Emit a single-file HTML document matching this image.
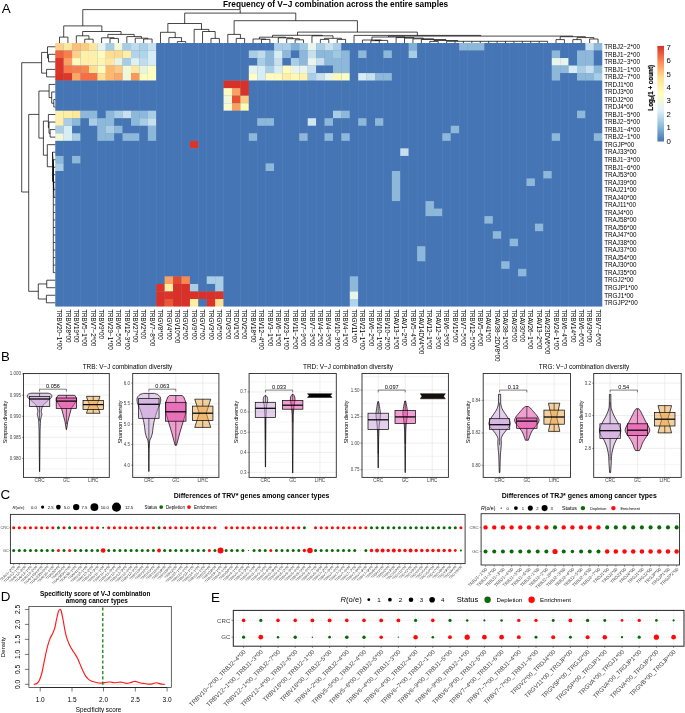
<!DOCTYPE html>
<html><head><meta charset="utf-8"><title>Figure</title>
<style>html,body{margin:0;padding:0;background:#fff;}body{width:685px;height:713px;overflow:hidden;font-family:"Liberation Sans", sans-serif;}svg{display:block;will-change:transform;}</style>
</head><body>
<svg width="685" height="713" viewBox="0 0 685 713" font-family='"Liberation Sans", sans-serif'>
<g id="heat">
<rect x="55.8" y="43.5" width="545.97" height="262.55" fill="#6F95C6"/>
<rect x="55.3" y="43" width="8.41" height="7.53" fill="#FDD08A"/>
<rect x="55.3" y="50.53" width="8.41" height="7.53" fill="#F0643C"/>
<rect x="55.3" y="58.06" width="8.41" height="15.06" fill="#DC3428"/>
<rect x="55.3" y="73.12" width="8.41" height="7.53" fill="#D93027"/>
<rect x="55.3" y="80.65" width="8.41" height="30.12" fill="#4575B4"/>
<rect x="55.3" y="110.77" width="8.41" height="15.06" fill="#FEF0A8"/>
<rect x="55.3" y="125.83" width="8.41" height="7.53" fill="#A8CDE4"/>
<rect x="55.3" y="133.36" width="8.41" height="7.53" fill="#F0F8D8"/>
<rect x="55.3" y="140.89" width="8.41" height="15.06" fill="#4575B4"/>
<rect x="55.3" y="155.95" width="8.41" height="7.53" fill="#8DB8DA"/>
<rect x="55.3" y="163.48" width="8.41" height="7.53" fill="#A8CDE4"/>
<rect x="55.3" y="171.01" width="8.41" height="135.54" fill="#4575B4"/>
<rect x="63.71" y="43" width="8.41" height="7.53" fill="#FEE9A0"/>
<rect x="63.71" y="50.53" width="8.41" height="7.53" fill="#F88048"/>
<rect x="63.71" y="58.06" width="8.41" height="7.53" fill="#FBA060"/>
<rect x="63.71" y="65.59" width="8.41" height="7.53" fill="#F87848"/>
<rect x="63.71" y="73.12" width="8.41" height="7.53" fill="#DC3828"/>
<rect x="63.71" y="80.65" width="8.41" height="30.12" fill="#4575B4"/>
<rect x="63.71" y="110.77" width="8.41" height="7.53" fill="#FEEEA0"/>
<rect x="63.71" y="118.3" width="8.41" height="7.53" fill="#A8CDE4"/>
<rect x="63.71" y="125.83" width="8.41" height="15.06" fill="#D8ECF4"/>
<rect x="63.71" y="140.89" width="8.41" height="165.66" fill="#4575B4"/>
<rect x="72.13" y="43" width="8.41" height="7.53" fill="#FDC07A"/>
<rect x="72.13" y="50.53" width="8.41" height="7.53" fill="#FDCF88"/>
<rect x="72.13" y="58.06" width="8.41" height="7.53" fill="#FFFBBC"/>
<rect x="72.13" y="65.59" width="8.41" height="7.53" fill="#F88050"/>
<rect x="72.13" y="73.12" width="8.41" height="7.53" fill="#FBA864"/>
<rect x="72.13" y="80.65" width="8.41" height="30.12" fill="#4575B4"/>
<rect x="72.13" y="110.77" width="8.41" height="7.53" fill="#FEE898"/>
<rect x="72.13" y="118.3" width="8.41" height="7.53" fill="#8DB8DA"/>
<rect x="72.13" y="125.83" width="8.41" height="7.53" fill="#4575B4"/>
<rect x="72.13" y="133.36" width="8.41" height="7.53" fill="#A8CDE4"/>
<rect x="72.13" y="140.89" width="8.41" height="15.06" fill="#4575B4"/>
<rect x="72.13" y="155.95" width="8.41" height="7.53" fill="#8DB8DA"/>
<rect x="72.13" y="163.48" width="8.41" height="143.07" fill="#4575B4"/>
<rect x="80.54" y="43" width="8.41" height="7.53" fill="#FDCB80"/>
<rect x="80.54" y="50.53" width="8.41" height="15.06" fill="#FEF0A8"/>
<rect x="80.54" y="65.59" width="8.41" height="7.53" fill="#F98850"/>
<rect x="80.54" y="73.12" width="8.41" height="7.53" fill="#F47044"/>
<rect x="80.54" y="80.65" width="8.41" height="30.12" fill="#4575B4"/>
<rect x="80.54" y="110.77" width="8.41" height="7.53" fill="#8DB8DA"/>
<rect x="80.54" y="118.3" width="8.41" height="188.25" fill="#4575B4"/>
<rect x="88.96" y="43" width="8.41" height="7.53" fill="#FEE6A0"/>
<rect x="88.96" y="50.53" width="8.41" height="15.06" fill="#FEF0A8"/>
<rect x="88.96" y="65.59" width="8.41" height="7.53" fill="#FEE090"/>
<rect x="88.96" y="73.12" width="8.41" height="7.53" fill="#F47044"/>
<rect x="88.96" y="80.65" width="8.41" height="30.12" fill="#4575B4"/>
<rect x="88.96" y="110.77" width="8.41" height="7.53" fill="#8DB8DA"/>
<rect x="88.96" y="118.3" width="8.41" height="7.53" fill="#A8CDE4"/>
<rect x="88.96" y="125.83" width="8.41" height="180.72" fill="#4575B4"/>
<rect x="97.38" y="43" width="8.41" height="7.53" fill="#E4F2F0"/>
<rect x="97.38" y="50.53" width="8.41" height="7.53" fill="#FFFBBC"/>
<rect x="97.38" y="58.06" width="8.41" height="7.53" fill="#FEF5B0"/>
<rect x="97.38" y="65.59" width="8.41" height="7.53" fill="#FFFBBC"/>
<rect x="97.38" y="73.12" width="8.41" height="7.53" fill="#FEE090"/>
<rect x="97.38" y="80.65" width="8.41" height="37.65" fill="#4575B4"/>
<rect x="97.38" y="118.3" width="8.41" height="22.59" fill="#8DB8DA"/>
<rect x="97.38" y="140.89" width="8.41" height="165.66" fill="#4575B4"/>
<rect x="105.79" y="43" width="8.41" height="7.53" fill="#A6CDE4"/>
<rect x="105.79" y="50.53" width="8.41" height="7.53" fill="#FEDD90"/>
<rect x="105.79" y="58.06" width="8.41" height="7.53" fill="#FEE8A0"/>
<rect x="105.79" y="65.59" width="8.41" height="15.06" fill="#FDB870"/>
<rect x="105.79" y="80.65" width="8.41" height="30.12" fill="#4575B4"/>
<rect x="105.79" y="110.77" width="8.41" height="15.06" fill="#8DB8DA"/>
<rect x="105.79" y="125.83" width="8.41" height="7.53" fill="#A8CDE4"/>
<rect x="105.79" y="133.36" width="8.41" height="7.53" fill="#8DB8DA"/>
<rect x="105.79" y="140.89" width="8.41" height="165.66" fill="#4575B4"/>
<rect x="114.2" y="43" width="8.41" height="7.53" fill="#F0F8D8"/>
<rect x="114.2" y="50.53" width="8.41" height="7.53" fill="#FEDA8C"/>
<rect x="114.2" y="58.06" width="8.41" height="7.53" fill="#E8F4E0"/>
<rect x="114.2" y="65.59" width="8.41" height="7.53" fill="#FDC880"/>
<rect x="114.2" y="73.12" width="8.41" height="7.53" fill="#FBA868"/>
<rect x="114.2" y="80.65" width="8.41" height="30.12" fill="#4575B4"/>
<rect x="114.2" y="110.77" width="8.41" height="7.53" fill="#A8CDE4"/>
<rect x="114.2" y="118.3" width="8.41" height="7.53" fill="#4575B4"/>
<rect x="114.2" y="125.83" width="8.41" height="7.53" fill="#8DB8DA"/>
<rect x="114.2" y="133.36" width="8.41" height="173.19" fill="#4575B4"/>
<rect x="122.62" y="43" width="8.41" height="7.53" fill="#A6CDE4"/>
<rect x="122.62" y="50.53" width="8.41" height="7.53" fill="#FEEEA8"/>
<rect x="122.62" y="58.06" width="8.41" height="7.53" fill="#A6CDE4"/>
<rect x="122.62" y="65.59" width="8.41" height="15.06" fill="#F0F8D8"/>
<rect x="122.62" y="80.65" width="8.41" height="30.12" fill="#4575B4"/>
<rect x="122.62" y="110.77" width="8.41" height="7.53" fill="#C8E0EE"/>
<rect x="122.62" y="118.3" width="8.41" height="15.06" fill="#4575B4"/>
<rect x="122.62" y="133.36" width="8.41" height="7.53" fill="#8DB8DA"/>
<rect x="122.62" y="140.89" width="8.41" height="165.66" fill="#4575B4"/>
<rect x="131.03" y="43" width="8.41" height="7.53" fill="#C0DCEC"/>
<rect x="131.03" y="50.53" width="8.41" height="7.53" fill="#B0D4E8"/>
<rect x="131.03" y="58.06" width="8.41" height="7.53" fill="#E0F0F0"/>
<rect x="131.03" y="65.59" width="8.41" height="7.53" fill="#FEE8A0"/>
<rect x="131.03" y="73.12" width="8.41" height="7.53" fill="#FB9858"/>
<rect x="131.03" y="80.65" width="8.41" height="30.12" fill="#4575B4"/>
<rect x="131.03" y="110.77" width="8.41" height="15.06" fill="#8DB8DA"/>
<rect x="131.03" y="125.83" width="8.41" height="7.53" fill="#4575B4"/>
<rect x="131.03" y="133.36" width="8.41" height="7.53" fill="#8DB8DA"/>
<rect x="131.03" y="140.89" width="8.41" height="165.66" fill="#4575B4"/>
<rect x="139.45" y="43" width="8.41" height="7.53" fill="#ABD0E6"/>
<rect x="139.45" y="50.53" width="8.41" height="7.53" fill="#B0D4E8"/>
<rect x="139.45" y="58.06" width="8.41" height="7.53" fill="#C0DCEC"/>
<rect x="139.45" y="65.59" width="8.41" height="7.53" fill="#E8F4E0"/>
<rect x="139.45" y="73.12" width="8.41" height="7.53" fill="#FFFBBC"/>
<rect x="139.45" y="80.65" width="8.41" height="30.12" fill="#4575B4"/>
<rect x="139.45" y="110.77" width="8.41" height="7.53" fill="#8DB8DA"/>
<rect x="139.45" y="118.3" width="8.41" height="7.53" fill="#A8CDE4"/>
<rect x="139.45" y="125.83" width="8.41" height="180.72" fill="#4575B4"/>
<rect x="147.87" y="43" width="8.41" height="7.53" fill="#C8E0EE"/>
<rect x="147.87" y="50.53" width="8.41" height="15.06" fill="#D8ECF4"/>
<rect x="147.87" y="65.59" width="8.41" height="15.06" fill="#FFFDC0"/>
<rect x="147.87" y="80.65" width="8.41" height="30.12" fill="#4575B4"/>
<rect x="147.87" y="110.77" width="8.41" height="7.53" fill="#A8CDE4"/>
<rect x="147.87" y="118.3" width="8.41" height="7.53" fill="#C8E0EE"/>
<rect x="147.87" y="125.83" width="8.41" height="15.06" fill="#8DB8DA"/>
<rect x="147.87" y="140.89" width="8.41" height="165.66" fill="#4575B4"/>
<rect x="156.28" y="43" width="8.41" height="240.96" fill="#4575B4"/>
<rect x="156.28" y="283.96" width="8.41" height="7.53" fill="#DC3428"/>
<rect x="156.28" y="291.49" width="8.41" height="15.06" fill="#D93027"/>
<rect x="164.69" y="43" width="8.41" height="233.43" fill="#4575B4"/>
<rect x="164.69" y="276.43" width="8.41" height="7.53" fill="#FBA060"/>
<rect x="164.69" y="283.96" width="8.41" height="7.53" fill="#FEEEA0"/>
<rect x="164.69" y="291.49" width="8.41" height="7.53" fill="#DC3428"/>
<rect x="164.69" y="299.02" width="8.41" height="7.53" fill="#E85838"/>
<rect x="173.11" y="43" width="8.41" height="233.43" fill="#4575B4"/>
<rect x="173.11" y="276.43" width="8.41" height="7.53" fill="#E04830"/>
<rect x="173.11" y="283.96" width="8.41" height="22.59" fill="#D93027"/>
<rect x="181.52" y="43" width="8.41" height="233.43" fill="#4575B4"/>
<rect x="181.52" y="276.43" width="8.41" height="7.53" fill="#F88850"/>
<rect x="181.52" y="283.96" width="8.41" height="22.59" fill="#D93027"/>
<rect x="189.94" y="43" width="8.41" height="97.89" fill="#4575B4"/>
<rect x="189.94" y="140.89" width="8.41" height="7.53" fill="#DC3428"/>
<rect x="189.94" y="148.42" width="8.41" height="135.54" fill="#4575B4"/>
<rect x="189.94" y="283.96" width="8.41" height="7.53" fill="#A8CDE4"/>
<rect x="189.94" y="291.49" width="8.41" height="7.53" fill="#D93027"/>
<rect x="189.94" y="299.02" width="8.41" height="7.53" fill="#FEEEA0"/>
<rect x="198.35" y="43" width="8.41" height="248.49" fill="#4575B4"/>
<rect x="198.35" y="291.49" width="8.41" height="7.53" fill="#D93027"/>
<rect x="198.35" y="299.02" width="8.41" height="7.53" fill="#4575B4"/>
<rect x="206.77" y="43" width="8.41" height="233.43" fill="#4575B4"/>
<rect x="206.77" y="276.43" width="8.41" height="7.53" fill="#A8CDE4"/>
<rect x="206.77" y="283.96" width="8.41" height="7.53" fill="#4575B4"/>
<rect x="206.77" y="291.49" width="8.41" height="7.53" fill="#D93027"/>
<rect x="206.77" y="299.02" width="8.41" height="7.53" fill="#DC3428"/>
<rect x="215.19" y="43" width="8.41" height="233.43" fill="#4575B4"/>
<rect x="215.19" y="276.43" width="8.41" height="15.06" fill="#A8CDE4"/>
<rect x="215.19" y="291.49" width="8.41" height="7.53" fill="#DC3428"/>
<rect x="215.19" y="299.02" width="8.41" height="7.53" fill="#FEE090"/>
<rect x="223.6" y="43" width="8.41" height="37.65" fill="#4575B4"/>
<rect x="223.6" y="80.65" width="8.41" height="7.53" fill="#D93027"/>
<rect x="223.6" y="88.18" width="8.41" height="7.53" fill="#FFFBC0"/>
<rect x="223.6" y="95.71" width="8.41" height="7.53" fill="#F0F8D8"/>
<rect x="223.6" y="103.24" width="8.41" height="7.53" fill="#F8FCD0"/>
<rect x="223.6" y="110.77" width="8.41" height="195.78" fill="#4575B4"/>
<rect x="232.01" y="43" width="8.41" height="37.65" fill="#4575B4"/>
<rect x="232.01" y="80.65" width="8.41" height="7.53" fill="#D93027"/>
<rect x="232.01" y="88.18" width="8.41" height="7.53" fill="#FBA060"/>
<rect x="232.01" y="95.71" width="8.41" height="7.53" fill="#E85030"/>
<rect x="232.01" y="103.24" width="8.41" height="7.53" fill="#FBA060"/>
<rect x="232.01" y="110.77" width="8.41" height="195.78" fill="#4575B4"/>
<rect x="240.43" y="43" width="8.41" height="37.65" fill="#4575B4"/>
<rect x="240.43" y="80.65" width="8.41" height="15.06" fill="#D93027"/>
<rect x="240.43" y="95.71" width="8.41" height="7.53" fill="#FDCB80"/>
<rect x="240.43" y="103.24" width="8.41" height="7.53" fill="#FFFBB0"/>
<rect x="240.43" y="110.77" width="8.41" height="195.78" fill="#4575B4"/>
<rect x="248.84" y="43" width="8.41" height="7.53" fill="#4575B4"/>
<rect x="248.84" y="50.53" width="8.41" height="7.53" fill="#A8CDE4"/>
<rect x="248.84" y="58.06" width="8.41" height="7.53" fill="#4575B4"/>
<rect x="248.84" y="65.59" width="8.41" height="7.53" fill="#E4F2F0"/>
<rect x="248.84" y="73.12" width="8.41" height="7.53" fill="#FFFDC8"/>
<rect x="248.84" y="80.65" width="8.41" height="52.71" fill="#4575B4"/>
<rect x="248.84" y="133.36" width="8.41" height="7.53" fill="#8DB8DA"/>
<rect x="248.84" y="140.89" width="8.41" height="165.66" fill="#4575B4"/>
<rect x="257.26" y="43" width="8.41" height="7.53" fill="#4575B4"/>
<rect x="257.26" y="50.53" width="8.41" height="7.53" fill="#C0DCEC"/>
<rect x="257.26" y="58.06" width="8.41" height="7.53" fill="#A8CDE4"/>
<rect x="257.26" y="65.59" width="8.41" height="15.06" fill="#D8ECF4"/>
<rect x="257.26" y="80.65" width="8.41" height="37.65" fill="#4575B4"/>
<rect x="257.26" y="118.3" width="8.41" height="7.53" fill="#8DB8DA"/>
<rect x="257.26" y="125.83" width="8.41" height="180.72" fill="#4575B4"/>
<rect x="265.67" y="43" width="8.41" height="7.53" fill="#4575B4"/>
<rect x="265.67" y="50.53" width="8.41" height="15.06" fill="#8DB8DA"/>
<rect x="265.67" y="65.59" width="8.41" height="7.53" fill="#A8CDE4"/>
<rect x="265.67" y="73.12" width="8.41" height="7.53" fill="#FFFBC0"/>
<rect x="265.67" y="80.65" width="8.41" height="37.65" fill="#4575B4"/>
<rect x="265.67" y="118.3" width="8.41" height="7.53" fill="#8DB8DA"/>
<rect x="265.67" y="125.83" width="8.41" height="37.65" fill="#4575B4"/>
<rect x="265.67" y="163.48" width="8.41" height="7.53" fill="#8DB8DA"/>
<rect x="265.67" y="171.01" width="8.41" height="135.54" fill="#4575B4"/>
<rect x="274.09" y="43" width="8.41" height="7.53" fill="#A8CDE4"/>
<rect x="274.09" y="50.53" width="8.41" height="7.53" fill="#D8ECF4"/>
<rect x="274.09" y="58.06" width="8.41" height="7.53" fill="#C8E0EE"/>
<rect x="274.09" y="65.59" width="8.41" height="7.53" fill="#D8ECF4"/>
<rect x="274.09" y="73.12" width="8.41" height="7.53" fill="#FFFBC0"/>
<rect x="274.09" y="80.65" width="8.41" height="225.9" fill="#4575B4"/>
<rect x="282.5" y="43" width="8.41" height="7.53" fill="#A8CDE4"/>
<rect x="282.5" y="50.53" width="8.41" height="7.53" fill="#8DB8DA"/>
<rect x="282.5" y="58.06" width="8.41" height="7.53" fill="#4575B4"/>
<rect x="282.5" y="65.59" width="8.41" height="7.53" fill="#FFFBBC"/>
<rect x="282.5" y="73.12" width="8.41" height="7.53" fill="#FEEEA8"/>
<rect x="282.5" y="80.65" width="8.41" height="225.9" fill="#4575B4"/>
<rect x="290.92" y="43" width="8.41" height="7.53" fill="#80B0D6"/>
<rect x="290.92" y="50.53" width="8.41" height="7.53" fill="#4575B4"/>
<rect x="290.92" y="58.06" width="8.41" height="7.53" fill="#A8CDE4"/>
<rect x="290.92" y="65.59" width="8.41" height="7.53" fill="#E8F4EC"/>
<rect x="290.92" y="73.12" width="8.41" height="7.53" fill="#FFF8B4"/>
<rect x="290.92" y="80.65" width="8.41" height="225.9" fill="#4575B4"/>
<rect x="299.33" y="43" width="8.41" height="7.53" fill="#A0C8E0"/>
<rect x="299.33" y="50.53" width="8.41" height="15.06" fill="#8DB8DA"/>
<rect x="299.33" y="65.59" width="8.41" height="7.53" fill="#E8F4EC"/>
<rect x="299.33" y="73.12" width="8.41" height="7.53" fill="#FEF2AC"/>
<rect x="299.33" y="80.65" width="8.41" height="52.71" fill="#4575B4"/>
<rect x="299.33" y="133.36" width="8.41" height="7.53" fill="#8DB8DA"/>
<rect x="299.33" y="140.89" width="8.41" height="165.66" fill="#4575B4"/>
<rect x="307.75" y="43" width="8.41" height="7.53" fill="#E8F4EC"/>
<rect x="307.75" y="50.53" width="8.41" height="7.53" fill="#C8E0EE"/>
<rect x="307.75" y="58.06" width="8.41" height="7.53" fill="#E8F4EC"/>
<rect x="307.75" y="65.59" width="8.41" height="7.53" fill="#C8E0EE"/>
<rect x="307.75" y="73.12" width="8.41" height="7.53" fill="#A8CDE4"/>
<rect x="307.75" y="80.65" width="8.41" height="37.65" fill="#4575B4"/>
<rect x="307.75" y="118.3" width="8.41" height="7.53" fill="#D0E6F0"/>
<rect x="307.75" y="125.83" width="8.41" height="180.72" fill="#4575B4"/>
<rect x="316.16" y="43" width="8.41" height="7.53" fill="#A8CDE4"/>
<rect x="316.16" y="50.53" width="8.41" height="7.53" fill="#8DB8DA"/>
<rect x="316.16" y="58.06" width="8.41" height="7.53" fill="#C8E0EE"/>
<rect x="316.16" y="65.59" width="8.41" height="7.53" fill="#4575B4"/>
<rect x="316.16" y="73.12" width="8.41" height="7.53" fill="#C8E0EE"/>
<rect x="316.16" y="80.65" width="8.41" height="225.9" fill="#4575B4"/>
<rect x="324.58" y="43" width="8.41" height="7.53" fill="#C8E0EE"/>
<rect x="324.58" y="50.53" width="8.41" height="15.06" fill="#8DB8DA"/>
<rect x="324.58" y="65.59" width="8.41" height="7.53" fill="#4575B4"/>
<rect x="324.58" y="73.12" width="8.41" height="7.53" fill="#E8F4EC"/>
<rect x="324.58" y="80.65" width="8.41" height="37.65" fill="#4575B4"/>
<rect x="324.58" y="118.3" width="8.41" height="7.53" fill="#8DB8DA"/>
<rect x="324.58" y="125.83" width="8.41" height="7.53" fill="#4575B4"/>
<rect x="324.58" y="133.36" width="8.41" height="7.53" fill="#8DB8DA"/>
<rect x="324.58" y="140.89" width="8.41" height="165.66" fill="#4575B4"/>
<rect x="333" y="43" width="8.41" height="7.53" fill="#A8CDE4"/>
<rect x="333" y="50.53" width="8.41" height="7.53" fill="#A0C8E0"/>
<rect x="333" y="58.06" width="8.41" height="15.06" fill="#8DB8DA"/>
<rect x="333" y="73.12" width="8.41" height="7.53" fill="#FFF8B4"/>
<rect x="333" y="80.65" width="8.41" height="30.12" fill="#4575B4"/>
<rect x="333" y="110.77" width="8.41" height="7.53" fill="#A8CDE4"/>
<rect x="333" y="118.3" width="8.41" height="188.25" fill="#4575B4"/>
<rect x="341.41" y="43" width="8.41" height="7.53" fill="#4575B4"/>
<rect x="341.41" y="50.53" width="8.41" height="22.59" fill="#8DB8DA"/>
<rect x="341.41" y="73.12" width="8.41" height="7.53" fill="#F8FCC4"/>
<rect x="341.41" y="80.65" width="8.41" height="30.12" fill="#4575B4"/>
<rect x="341.41" y="110.77" width="8.41" height="7.53" fill="#8DB8DA"/>
<rect x="341.41" y="118.3" width="8.41" height="15.06" fill="#4575B4"/>
<rect x="341.41" y="133.36" width="8.41" height="7.53" fill="#8DB8DA"/>
<rect x="341.41" y="140.89" width="8.41" height="165.66" fill="#4575B4"/>
<rect x="349.82" y="43" width="8.41" height="233.43" fill="#4575B4"/>
<rect x="349.82" y="276.43" width="8.41" height="15.06" fill="#8DB8DA"/>
<rect x="349.82" y="291.49" width="8.41" height="7.53" fill="#E8F4EC"/>
<rect x="349.82" y="299.02" width="8.41" height="7.53" fill="#B0D4E8"/>
<rect x="358.24" y="43" width="8.41" height="7.53" fill="#4575B4"/>
<rect x="358.24" y="50.53" width="8.41" height="7.53" fill="#8DB8DA"/>
<rect x="358.24" y="58.06" width="8.41" height="15.06" fill="#4575B4"/>
<rect x="358.24" y="73.12" width="8.41" height="7.53" fill="#D8ECF4"/>
<rect x="358.24" y="80.65" width="8.41" height="37.65" fill="#4575B4"/>
<rect x="358.24" y="118.3" width="8.41" height="7.53" fill="#8DB8DA"/>
<rect x="358.24" y="125.83" width="8.41" height="180.72" fill="#4575B4"/>
<rect x="366.65" y="43" width="8.41" height="30.12" fill="#4575B4"/>
<rect x="366.65" y="73.12" width="8.41" height="7.53" fill="#C8E0EE"/>
<rect x="366.65" y="80.65" width="8.41" height="225.9" fill="#4575B4"/>
<rect x="375.07" y="43" width="8.41" height="30.12" fill="#4575B4"/>
<rect x="375.07" y="73.12" width="8.41" height="7.53" fill="#8DB8DA"/>
<rect x="375.07" y="80.65" width="8.41" height="37.65" fill="#4575B4"/>
<rect x="375.07" y="118.3" width="8.41" height="7.53" fill="#8DB8DA"/>
<rect x="375.07" y="125.83" width="8.41" height="180.72" fill="#4575B4"/>
<rect x="383.48" y="43" width="8.41" height="7.53" fill="#4575B4"/>
<rect x="383.48" y="50.53" width="8.41" height="7.53" fill="#8DB8DA"/>
<rect x="383.48" y="58.06" width="8.41" height="15.06" fill="#4575B4"/>
<rect x="383.48" y="73.12" width="8.41" height="7.53" fill="#8DB8DA"/>
<rect x="383.48" y="80.65" width="8.41" height="225.9" fill="#4575B4"/>
<rect x="391.9" y="43" width="8.41" height="128.01" fill="#4575B4"/>
<rect x="391.9" y="171.01" width="8.41" height="30.12" fill="#8DB8DA"/>
<rect x="391.9" y="201.13" width="8.41" height="105.42" fill="#4575B4"/>
<rect x="400.31" y="43" width="8.41" height="105.42" fill="#4575B4"/>
<rect x="400.31" y="148.42" width="8.41" height="7.53" fill="#C8E0EE"/>
<rect x="400.31" y="155.95" width="8.41" height="150.6" fill="#4575B4"/>
<rect x="408.73" y="43" width="8.41" height="7.53" fill="#80B0D6"/>
<rect x="408.73" y="50.53" width="8.41" height="7.53" fill="#A8CDE4"/>
<rect x="408.73" y="58.06" width="8.41" height="248.49" fill="#4575B4"/>
<rect x="417.14" y="43" width="8.41" height="203.31" fill="#4575B4"/>
<rect x="417.14" y="246.31" width="8.41" height="15.06" fill="#8DB8DA"/>
<rect x="417.14" y="261.37" width="8.41" height="45.18" fill="#4575B4"/>
<rect x="425.56" y="43" width="8.41" height="158.13" fill="#4575B4"/>
<rect x="425.56" y="201.13" width="8.41" height="15.06" fill="#8DB8DA"/>
<rect x="425.56" y="216.19" width="8.41" height="90.36" fill="#4575B4"/>
<rect x="433.97" y="43" width="8.41" height="165.66" fill="#4575B4"/>
<rect x="433.97" y="208.66" width="8.41" height="7.53" fill="#8DB8DA"/>
<rect x="433.97" y="216.19" width="8.41" height="90.36" fill="#4575B4"/>
<rect x="442.39" y="43" width="8.41" height="90.36" fill="#4575B4"/>
<rect x="442.39" y="133.36" width="8.41" height="7.53" fill="#8DB8DA"/>
<rect x="442.39" y="140.89" width="8.41" height="165.66" fill="#4575B4"/>
<rect x="450.8" y="43" width="8.41" height="82.83" fill="#4575B4"/>
<rect x="450.8" y="125.83" width="8.41" height="7.53" fill="#8DB8DA"/>
<rect x="450.8" y="133.36" width="8.41" height="173.19" fill="#4575B4"/>
<rect x="459.22" y="43" width="8.41" height="7.53" fill="#8DB8DA"/>
<rect x="459.22" y="50.53" width="8.41" height="256.02" fill="#4575B4"/>
<rect x="467.63" y="43" width="8.41" height="7.53" fill="#8DB8DA"/>
<rect x="467.63" y="50.53" width="8.41" height="256.02" fill="#4575B4"/>
<rect x="476.05" y="43" width="8.41" height="7.53" fill="#8DB8DA"/>
<rect x="476.05" y="50.53" width="8.41" height="256.02" fill="#4575B4"/>
<rect x="484.46" y="43" width="8.41" height="173.19" fill="#4575B4"/>
<rect x="484.46" y="216.19" width="8.41" height="7.53" fill="#8DB8DA"/>
<rect x="484.46" y="223.72" width="8.41" height="82.83" fill="#4575B4"/>
<rect x="492.88" y="43" width="8.41" height="188.25" fill="#4575B4"/>
<rect x="492.88" y="231.25" width="8.41" height="7.53" fill="#8DB8DA"/>
<rect x="492.88" y="238.78" width="8.41" height="67.77" fill="#4575B4"/>
<rect x="501.29" y="43" width="8.41" height="218.37" fill="#4575B4"/>
<rect x="501.29" y="261.37" width="8.41" height="7.53" fill="#8DB8DA"/>
<rect x="501.29" y="268.9" width="8.41" height="37.65" fill="#4575B4"/>
<rect x="509.71" y="43" width="8.41" height="195.78" fill="#4575B4"/>
<rect x="509.71" y="238.78" width="8.41" height="7.53" fill="#8DB8DA"/>
<rect x="509.71" y="246.31" width="8.41" height="60.24" fill="#4575B4"/>
<rect x="518.12" y="43" width="8.41" height="225.9" fill="#4575B4"/>
<rect x="518.12" y="268.9" width="8.41" height="7.53" fill="#8DB8DA"/>
<rect x="518.12" y="276.43" width="8.41" height="30.12" fill="#4575B4"/>
<rect x="526.54" y="43" width="8.41" height="135.54" fill="#4575B4"/>
<rect x="526.54" y="178.54" width="8.41" height="7.53" fill="#8DB8DA"/>
<rect x="526.54" y="186.07" width="8.41" height="120.48" fill="#4575B4"/>
<rect x="534.95" y="43" width="8.41" height="180.72" fill="#4575B4"/>
<rect x="534.95" y="223.72" width="8.41" height="7.53" fill="#8DB8DA"/>
<rect x="534.95" y="231.25" width="8.41" height="75.3" fill="#4575B4"/>
<rect x="543.37" y="43" width="8.41" height="128.01" fill="#4575B4"/>
<rect x="543.37" y="171.01" width="8.41" height="7.53" fill="#8DB8DA"/>
<rect x="543.37" y="178.54" width="8.41" height="128.01" fill="#4575B4"/>
<rect x="551.78" y="43" width="8.41" height="7.53" fill="#4575B4"/>
<rect x="551.78" y="50.53" width="8.41" height="7.53" fill="#8DB8DA"/>
<rect x="551.78" y="58.06" width="8.41" height="7.53" fill="#E8F4EC"/>
<rect x="551.78" y="65.59" width="8.41" height="15.06" fill="#8DB8DA"/>
<rect x="551.78" y="80.65" width="8.41" height="52.71" fill="#4575B4"/>
<rect x="551.78" y="133.36" width="8.41" height="7.53" fill="#8DB8DA"/>
<rect x="551.78" y="140.89" width="8.41" height="165.66" fill="#4575B4"/>
<rect x="560.2" y="43" width="8.41" height="15.06" fill="#4575B4"/>
<rect x="560.2" y="58.06" width="8.41" height="7.53" fill="#E8F4EC"/>
<rect x="560.2" y="65.59" width="8.41" height="7.53" fill="#8DB8DA"/>
<rect x="560.2" y="73.12" width="8.41" height="233.43" fill="#4575B4"/>
<rect x="568.61" y="43" width="8.41" height="22.59" fill="#4575B4"/>
<rect x="568.61" y="65.59" width="8.41" height="7.53" fill="#D8ECF4"/>
<rect x="568.61" y="73.12" width="8.41" height="233.43" fill="#4575B4"/>
<rect x="577.03" y="43" width="8.41" height="7.53" fill="#4575B4"/>
<rect x="577.03" y="50.53" width="8.41" height="15.06" fill="#8DB8DA"/>
<rect x="577.03" y="65.59" width="8.41" height="7.53" fill="#A8CDE4"/>
<rect x="577.03" y="73.12" width="8.41" height="7.53" fill="#8DB8DA"/>
<rect x="577.03" y="80.65" width="8.41" height="30.12" fill="#4575B4"/>
<rect x="577.03" y="110.77" width="8.41" height="7.53" fill="#8DB8DA"/>
<rect x="577.03" y="118.3" width="8.41" height="188.25" fill="#4575B4"/>
<rect x="585.44" y="43" width="8.41" height="7.53" fill="#C8E0EE"/>
<rect x="585.44" y="50.53" width="8.41" height="15.06" fill="#8DB8DA"/>
<rect x="585.44" y="65.59" width="8.41" height="7.53" fill="#C8E0EE"/>
<rect x="585.44" y="73.12" width="8.41" height="7.53" fill="#8DB8DA"/>
<rect x="585.44" y="80.65" width="8.41" height="225.9" fill="#4575B4"/>
<rect x="593.86" y="43" width="8.41" height="7.53" fill="#8DB8DA"/>
<rect x="593.86" y="50.53" width="8.41" height="15.06" fill="#4575B4"/>
<rect x="593.86" y="65.59" width="8.41" height="7.53" fill="#8DB8DA"/>
<rect x="593.86" y="73.12" width="8.41" height="7.53" fill="#A8CDE4"/>
<rect x="593.86" y="80.65" width="8.41" height="52.71" fill="#4575B4"/>
<rect x="593.86" y="133.36" width="8.41" height="7.53" fill="#8DB8DA"/>
<rect x="593.86" y="140.89" width="8.41" height="165.66" fill="#4575B4"/>
</g>
<g font-size="6.3">
<text x="604.2" y="49.02">TRBJ2−2*00</text>
<text x="604.2" y="56.55">TRBJ1−2*00</text>
<text x="604.2" y="64.08">TRBJ2−3*00</text>
<text x="604.2" y="71.61">TRBJ1−1*00</text>
<text x="604.2" y="79.13">TRBJ2−7*00</text>
<text x="604.2" y="86.66">TRDJ1*00</text>
<text x="604.2" y="94.19">TRDJ3*00</text>
<text x="604.2" y="101.72">TRDJ2*00</text>
<text x="604.2" y="109.25">TRDJ4*00</text>
<text x="604.2" y="116.78">TRBJ1−5*00</text>
<text x="604.2" y="124.31">TRBJ2−5*00</text>
<text x="604.2" y="131.84">TRBJ1−4*00</text>
<text x="604.2" y="139.38">TRBJ2−1*00</text>
<text x="604.2" y="146.91">TRGJP*00</text>
<text x="604.2" y="154.44">TRAJ33*00</text>
<text x="604.2" y="161.97">TRBJ1−3*00</text>
<text x="604.2" y="169.5">TRBJ1−6*00</text>
<text x="604.2" y="177.03">TRAJ53*00</text>
<text x="604.2" y="184.56">TRAJ39*00</text>
<text x="604.2" y="192.09">TRAJ21*00</text>
<text x="604.2" y="199.62">TRAJ40*00</text>
<text x="604.2" y="207.15">TRAJ11*00</text>
<text x="604.2" y="214.68">TRAJ4*00</text>
<text x="604.2" y="222.21">TRAJ58*00</text>
<text x="604.2" y="229.74">TRAJ56*00</text>
<text x="604.2" y="237.27">TRAJ47*00</text>
<text x="604.2" y="244.8">TRAJ38*00</text>
<text x="604.2" y="252.33">TRAJ37*00</text>
<text x="604.2" y="259.86">TRAJ54*00</text>
<text x="604.2" y="267.38">TRAJ30*00</text>
<text x="604.2" y="274.92">TRAJ35*00</text>
<text x="604.2" y="282.45">TRGJ2*00</text>
<text x="604.2" y="289.98">TRGJP1*00</text>
<text x="604.2" y="297.5">TRGJ1*00</text>
<text x="604.2" y="305.04">TRGJP2*00</text>
<text transform="translate(57.21 309.2) rotate(90)">TRBV20−1*00</text>
<text transform="translate(65.62 309.2) rotate(90)">TRBV28*00</text>
<text transform="translate(74.04 309.2) rotate(90)">TRBV19*00</text>
<text transform="translate(82.45 309.2) rotate(90)">TRBV5−1*00</text>
<text transform="translate(90.87 309.2) rotate(90)">TRBV7−2*00</text>
<text transform="translate(99.28 309.2) rotate(90)">TRBV9*00</text>
<text transform="translate(107.7 309.2) rotate(90)">TRBV29−1*00</text>
<text transform="translate(116.11 309.2) rotate(90)">TRBV6−5*00</text>
<text transform="translate(124.53 309.2) rotate(90)">TRBV12−3*00</text>
<text transform="translate(132.94 309.2) rotate(90)">TRBV27*00</text>
<text transform="translate(141.36 309.2) rotate(90)">TRBV2*00</text>
<text transform="translate(149.77 309.2) rotate(90)">TRBV7−8*00</text>
<text transform="translate(158.19 309.2) rotate(90)">TRGV8*00</text>
<text transform="translate(166.6 309.2) rotate(90)">TRGV4*00</text>
<text transform="translate(175.02 309.2) rotate(90)">TRGV10*00</text>
<text transform="translate(183.43 309.2) rotate(90)">TRGV2*00</text>
<text transform="translate(191.85 309.2) rotate(90)">TRGV9*00</text>
<text transform="translate(200.26 309.2) rotate(90)">TRGV7*00</text>
<text transform="translate(208.68 309.2) rotate(90)">TRGV3*00</text>
<text transform="translate(217.09 309.2) rotate(90)">TRGV5*00</text>
<text transform="translate(225.51 309.2) rotate(90)">TRDV3*00</text>
<text transform="translate(233.92 309.2) rotate(90)">TRDV1*00</text>
<text transform="translate(242.34 309.2) rotate(90)">TRDV2*00</text>
<text transform="translate(250.75 309.2) rotate(90)">TRBV18*00</text>
<text transform="translate(259.17 309.2) rotate(90)">TRBV12−4*00</text>
<text transform="translate(267.58 309.2) rotate(90)">TRBV3−1*00</text>
<text transform="translate(276 309.2) rotate(90)">TRBV6−1*00</text>
<text transform="translate(284.41 309.2) rotate(90)">TRBV23−1*00</text>
<text transform="translate(292.83 309.2) rotate(90)">TRBV11−2*00</text>
<text transform="translate(301.24 309.2) rotate(90)">TRBV7−9*00</text>
<text transform="translate(309.66 309.2) rotate(90)">TRBV7−3*00</text>
<text transform="translate(318.07 309.2) rotate(90)">TRBV4−2*00</text>
<text transform="translate(326.49 309.2) rotate(90)">TRBV4−3*00</text>
<text transform="translate(334.9 309.2) rotate(90)">TRBV10−3*00</text>
<text transform="translate(343.32 309.2) rotate(90)">TRBV4−1*00</text>
<text transform="translate(351.73 309.2) rotate(90)">TRGV11*00</text>
<text transform="translate(360.15 309.2) rotate(90)">TRBV21−1*00</text>
<text transform="translate(368.56 309.2) rotate(90)">TRBV6−2*00</text>
<text transform="translate(376.98 309.2) rotate(90)">TRBV10−1*00</text>
<text transform="translate(385.39 309.2) rotate(90)">TRBV10−2*00</text>
<text transform="translate(393.81 309.2) rotate(90)">TRAV13−1*00</text>
<text transform="translate(402.22 309.2) rotate(90)">TRAV1−2*00</text>
<text transform="translate(410.64 309.2) rotate(90)">TRBV5−4*00</text>
<text transform="translate(419.05 309.2) rotate(90)">TRAV14DV4*00</text>
<text transform="translate(427.47 309.2) rotate(90)">TRAV12−1*00</text>
<text transform="translate(435.88 309.2) rotate(90)">TRAV12−3*00</text>
<text transform="translate(444.3 309.2) rotate(90)">TRBV6−3*00</text>
<text transform="translate(452.71 309.2) rotate(90)">TRBV15*00</text>
<text transform="translate(461.13 309.2) rotate(90)">TRBV7−5*00</text>
<text transform="translate(469.54 309.2) rotate(90)">TRBV12−5*00</text>
<text transform="translate(477.96 309.2) rotate(90)">TRBV5−6*00</text>
<text transform="translate(486.37 309.2) rotate(90)">TRAV41*00</text>
<text transform="translate(494.79 309.2) rotate(90)">TRAV38−2DV8*00</text>
<text transform="translate(503.2 309.2) rotate(90)">TRAV38−1*00</text>
<text transform="translate(511.62 309.2) rotate(90)">TRAV35*00</text>
<text transform="translate(520.03 309.2) rotate(90)">TRAV30*00</text>
<text transform="translate(528.45 309.2) rotate(90)">TRAV26−1*00</text>
<text transform="translate(536.86 309.2) rotate(90)">TRAV13−2*00</text>
<text transform="translate(545.28 309.2) rotate(90)">TRAV23DV6*00</text>
<text transform="translate(553.69 309.2) rotate(90)">TRBV24−1*00</text>
<text transform="translate(562.11 309.2) rotate(90)">TRBV6−4*00</text>
<text transform="translate(570.52 309.2) rotate(90)">TRBV14*00</text>
<text transform="translate(578.94 309.2) rotate(90)">TRBV6−6*00</text>
<text transform="translate(587.35 309.2) rotate(90)">TRBV30*00</text>
<text transform="translate(595.77 309.2) rotate(90)">TRBV7−6*00</text>
</g>
<text x="335.6" y="6.9" font-size="8.3" text-anchor="middle" font-weight="bold">Frequency of V−J combination across the entire samples</text>
<text x="1.8" y="13.1" font-size="13.4">A</text>
<defs><linearGradient id="cb" x1="0" y1="1" x2="0" y2="0">
<stop offset="0" stop-color="#4575B4"/>
<stop offset="0.17" stop-color="#91BFDB"/>
<stop offset="0.33" stop-color="#E0F3F8"/>
<stop offset="0.5" stop-color="#FFFFBF"/>
<stop offset="0.67" stop-color="#FEE090"/>
<stop offset="0.83" stop-color="#FC8D59"/>
<stop offset="1" stop-color="#D73027"/>
</linearGradient></defs>
<rect x="657.4" y="45.9" width="6.6" height="95.6" fill="url(#cb)"/>
<text x="666.6" y="143.9" font-size="7.8">0</text>
<text x="666.6" y="130.43" font-size="7.8">1</text>
<text x="666.6" y="116.96" font-size="7.8">2</text>
<text x="666.6" y="103.49" font-size="7.8">3</text>
<text x="666.6" y="90.02" font-size="7.8">4</text>
<text x="666.6" y="76.55" font-size="7.8">5</text>
<text x="666.6" y="63.08" font-size="7.8">6</text>
<text x="666.6" y="49.61" font-size="7.8">7</text>
<text transform="translate(652.7 87.8) rotate(-90)" font-size="6.3" font-weight="bold" stroke="#000" stroke-width="0.2" text-anchor="middle">Log<tspan font-size="4" dy="1.2">2</tspan><tspan dy="-1.2">(1 + count)</tspan></text>
<path d="M59.51 43V37.1H67.92V43M84.75 43V39.2H93.17V43M76.34 43V35.8H88.96V39.2M110 43V38.4H118.41V43M101.58 43V37.8H114.2V38.4M143.66 43V39H152.07V43M135.24 43V38.2H147.86V39M126.83 43V36.6H141.55V38.2M107.89 37.8V34.4H134.19V36.6M82.65 35.8V31.5H121.04V34.4M63.71 37.1V25.9H101.85V31.5M177.32 43V41.6H185.73V43M168.9 43V37.6H181.52V41.6M160.49 43V32.3H175.21V37.6M210.98 43V38.4H219.39V43M202.56 43V31.5H215.18V38.4M194.15 43V29.4H208.87V31.5M167.85 32.3V23.5H201.51V29.4M236.22 43V38.4H244.64V43M227.81 43V34.4H240.43V38.4M261.47 43V39.4H269.88V43M253.05 43V39H265.67V39.4M295.13 43V39.8H303.54V43M286.71 43V38.7H299.33V39.8M278.3 43V37.8H293.02V38.7M259.36 39V37.2H285.66V37.8M320.37 43V39.4H328.79V43M337.2 43V39.4H345.62V43M324.58 39.4V38.3H341.41V39.4M311.96 43V35.8H333V38.3M272.51 37.2V35.3H322.48V35.8M555.99 43V39.6H564.41V43M572.82 43V39.6H581.24V43M589.65 43V39H598.07V43M577.03 39.6V37.6H593.86V39M560.2 39.6V36.7H585.44V37.6M446.6 41.3H547.58M446.6 41.3V43M455.01 41.3V43M463.43 41.3V43M471.84 41.3V43M480.26 41.3V43M488.67 41.3V43M497.09 41.3V43M505.5 41.3V43M513.92 41.3V43M522.33 41.3V43M530.75 41.3V43M539.16 41.3V43M547.58 41.3V43M429.77 43V41.4H438.18V43M433.97 41.4V40.5H457.8V41.3M421.35 43V39.5H445.89V40.5M412.94 43V38.8H433.62V39.5M404.52 43V38.1H423.28V38.8M396.11 43V37.6H413.9V38.1M370.86 43V40.7H379.28V43M375.07 40.7V40.4H387.69V43M362.45 43V40H381.38V40.4M371.91 40V37H405V37.6M388.46 37V36.1H572.82V36.7M354.03 43V35.4H480.64V36.1M297.49 35.3V32.1H417.34V35.4M234.12 34.4V20.7H357.42V32.1M184.68 23.5V13.1H295.77V20.7M82.78 25.9V9.6H240.22V13.1" stroke="#000" stroke-width="0.72" fill="none" stroke-linejoin="miter"/>
<path d="M55.3 54.3H48.5V61.83H55.3M55.3 46.77H47.5V58.06H48.5M55.3 69.36H46.6V76.88H55.3M47.5 52.41H41.6V73.12H46.6M55.3 99.47H53.8V107H55.3M55.3 91.94H51.7V103.24H53.8M55.3 84.41H49.1V97.59H51.7M55.3 129.59H50.1V137.12H55.3M55.3 122.06H49V133.36H50.1M55.3 114.53H48.4V127.71H49M53.3 159.72V272.67M53.3 159.72H55.3M53.3 167.25H55.3M53.3 174.78H55.3M53.3 182.31H55.3M53.3 189.84H55.3M53.3 197.37H55.3M53.3 204.9H55.3M53.3 212.43H55.3M53.3 219.96H55.3M53.3 227.49H55.3M53.3 235.02H55.3M53.3 242.55H55.3M53.3 250.08H55.3M53.3 257.61H55.3M53.3 265.13H55.3M53.3 272.67H55.3M52.5 152.19L53.6 167.25L53 174.78L54 197.37M52.9 159.72L53.9 189.84M55.3 152.19H52.5V181.3H53.3M55.3 144.66H47.3V166.74H52.5M48.4 121.12H43.4V155.2H47.3M49.1 91H38.9V138.1H43.4M55.3 280.2H46.75V287.73H55.3M55.3 295.25H46.4V302.79H55.3M46.75 283.96H38.3V299.02H46.4M38.9 114.4H28.7V291.3H38.3M41.6 62.7H21.7V192H28.7" stroke="#000" stroke-width="0.72" fill="none"/>
<text x="0.9" y="361.2" font-size="13.2">B</text>
<rect x="23.5" y="373.5" width="85.8" height="103.9" fill="#fff"/>
<line x1="23.5" y1="384.5" x2="109.3" y2="384.5" stroke="#E6E6E6" stroke-width="0.4"/>
<line x1="23.5" y1="405.7" x2="109.3" y2="405.7" stroke="#E6E6E6" stroke-width="0.4"/>
<line x1="23.5" y1="426.8" x2="109.3" y2="426.8" stroke="#E6E6E6" stroke-width="0.4"/>
<line x1="23.5" y1="447.8" x2="109.3" y2="447.8" stroke="#E6E6E6" stroke-width="0.4"/>
<line x1="23.5" y1="468.9" x2="109.3" y2="468.9" stroke="#E6E6E6" stroke-width="0.4"/>
<line x1="23.5" y1="373.9" x2="109.3" y2="373.9" stroke="#E6E6E6" stroke-width="0.7"/>
<line x1="21.9" y1="373.9" x2="23.5" y2="373.9" stroke="#333" stroke-width="0.5"/>
<text x="20.9" y="375.4" font-size="4.5" text-anchor="end" fill="#454545">1.000</text>
<line x1="23.5" y1="395.1" x2="109.3" y2="395.1" stroke="#E6E6E6" stroke-width="0.7"/>
<line x1="21.9" y1="395.1" x2="23.5" y2="395.1" stroke="#333" stroke-width="0.5"/>
<text x="20.9" y="396.6" font-size="4.5" text-anchor="end" fill="#454545">0.995</text>
<line x1="23.5" y1="416.3" x2="109.3" y2="416.3" stroke="#E6E6E6" stroke-width="0.7"/>
<line x1="21.9" y1="416.3" x2="23.5" y2="416.3" stroke="#333" stroke-width="0.5"/>
<text x="20.9" y="417.8" font-size="4.5" text-anchor="end" fill="#454545">0.990</text>
<line x1="23.5" y1="437.3" x2="109.3" y2="437.3" stroke="#E6E6E6" stroke-width="0.7"/>
<line x1="21.9" y1="437.3" x2="23.5" y2="437.3" stroke="#333" stroke-width="0.5"/>
<text x="20.9" y="438.8" font-size="4.5" text-anchor="end" fill="#454545">0.985</text>
<line x1="23.5" y1="458.3" x2="109.3" y2="458.3" stroke="#E6E6E6" stroke-width="0.7"/>
<line x1="21.9" y1="458.3" x2="23.5" y2="458.3" stroke="#333" stroke-width="0.5"/>
<text x="20.9" y="459.8" font-size="4.5" text-anchor="end" fill="#454545">0.980</text>
<line x1="39.59" y1="373.5" x2="39.59" y2="477.4" stroke="#E6E6E6" stroke-width="0.7"/>
<line x1="39.59" y1="477.4" x2="39.59" y2="479" stroke="#333" stroke-width="0.5"/>
<text x="39.59" y="482.2" font-size="4.6" text-anchor="middle" fill="#454545">CRC</text>
<line x1="66.4" y1="373.5" x2="66.4" y2="477.4" stroke="#E6E6E6" stroke-width="0.7"/>
<line x1="66.4" y1="477.4" x2="66.4" y2="479" stroke="#333" stroke-width="0.5"/>
<text x="66.4" y="482.2" font-size="4.6" text-anchor="middle" fill="#454545">GC</text>
<line x1="93.21" y1="373.5" x2="93.21" y2="477.4" stroke="#E6E6E6" stroke-width="0.7"/>
<line x1="93.21" y1="477.4" x2="93.21" y2="479" stroke="#333" stroke-width="0.5"/>
<text x="93.21" y="482.2" font-size="4.6" text-anchor="middle" fill="#454545">LIHC</text>
<text transform="translate(7.4 422) rotate(-90)" font-size="5.4" text-anchor="middle">Simpson diversity</text>
<path d="M48.19 393.2L48.92 393.4L49.65 393.6L50.3 393.8L50.79 394.13L51.19 394.47L51.52 394.8L51.72 395.4L51.85 396L51.88 396.6L51.69 397.07L51.39 397.53L51.02 398L50.52 398.47L49.95 398.93L49.26 399.4L48.32 400.33L47.25 401.27L46.24 402.2L45.32 402.97L44.45 403.73L43.7 404.5L43.19 405.13L42.79 405.77L42.4 406.4L42.05 407.6L41.72 408.8L41.46 410L41.35 410.63L41.32 411.27L41.35 411.9L41.52 412.6L41.75 413.3L41.88 414L41.79 414.83L41.59 415.67L41.36 416.5L41.09 417.73L40.79 418.97L40.53 420.2L40.35 423.47L40.22 426.73L40.09 430L39.95 443.9L39.82 457.8L39.69 471.7L39.49 471.7L39.35 457.8L39.22 443.9L39.09 430L38.95 426.73L38.82 423.47L38.65 420.2L38.39 418.97L38.09 417.73L37.81 416.5L37.59 415.67L37.39 414.83L37.3 414L37.42 413.3L37.65 412.6L37.82 411.9L37.85 411.27L37.82 410.63L37.71 410L37.45 408.8L37.12 407.6L36.77 406.4L36.39 405.77L35.99 405.13L35.47 404.5L34.72 403.73L33.85 402.97L32.94 402.2L31.92 401.27L30.85 400.33L29.91 399.4L29.22 398.93L28.65 398.47L28.15 398L27.79 397.53L27.49 397.07L27.3 396.6L27.32 396L27.45 395.4L27.65 394.8L27.99 394.47L28.39 394.13L28.87 393.8L29.52 393.6L30.25 393.4L30.99 393.2Z" stroke="#000" stroke-width="0.7" fill="#C79FD8" fill-opacity="0.5" stroke-linejoin="round"/>
<line x1="39.59" y1="393.2" x2="39.59" y2="396.6" stroke="#000" stroke-width="0.55"/>
<line x1="39.59" y1="406.4" x2="39.59" y2="421.1" stroke="#000" stroke-width="0.55"/>
<rect x="29.39" y="396.6" width="20.4" height="9.8" fill="#C79FD8" stroke="#000" stroke-width="0.7" fill-opacity="0.5"/>
<line x1="29.39" y1="399" x2="49.79" y2="399" stroke="#000" stroke-width="1.25"/>
<path d="M74.7 395.3L76.5 398L76.5 400.8L71.3 408.4L67.8 421.6L66.5 429.7L66.3 429.7L65 421.6L61.5 408.4L56.3 400.8L56.3 398L58.1 395.3Z" stroke="#000" stroke-width="0.7" fill="#E141A1" fill-opacity="0.5" stroke-linejoin="round"/>
<line x1="66.4" y1="395.3" x2="66.4" y2="398" stroke="#000" stroke-width="0.55"/>
<line x1="66.4" y1="408.4" x2="66.4" y2="424" stroke="#000" stroke-width="0.55"/>
<rect x="56.2" y="398" width="20.4" height="10.4" fill="#E141A1" stroke="#000" stroke-width="0.7" fill-opacity="0.5"/>
<line x1="56.2" y1="401.1" x2="76.6" y2="401.1" stroke="#000" stroke-width="1.25"/>
<path d="M100.01 396.4L98.71 400.4L96.81 404.6L98.71 409.4L100.01 413.3L86.41 413.3L87.71 409.4L89.61 404.6L87.71 400.4L86.41 396.4Z" stroke="#000" stroke-width="0.7" fill="#E9A141" fill-opacity="0.5" stroke-linejoin="round"/>
<line x1="93.21" y1="396.4" x2="93.21" y2="400.4" stroke="#000" stroke-width="0.55"/>
<line x1="93.21" y1="409.4" x2="93.21" y2="413.3" stroke="#000" stroke-width="0.55"/>
<rect x="83.01" y="400.4" width="20.4" height="9" fill="#E9A141" stroke="#000" stroke-width="0.7" fill-opacity="0.5"/>
<line x1="83.01" y1="404.6" x2="103.41" y2="404.6" stroke="#000" stroke-width="1.25"/>
<path d="M39.59 391.5V389.2H66.4V391.5" stroke="#000" stroke-width="0.5" fill="none"/>
<text x="52.99" y="387.8" font-size="5.6" text-anchor="middle">0.056</text>
<rect x="23.5" y="373.5" width="85.8" height="103.9" fill="none" stroke="#2b2b2b" stroke-width="0.9"/>
<rect x="132.7" y="373.5" width="86.2" height="103.9" fill="#fff"/>
<line x1="132.7" y1="393.4" x2="218.9" y2="393.4" stroke="#E6E6E6" stroke-width="0.4"/>
<line x1="132.7" y1="413.95" x2="218.9" y2="413.95" stroke="#E6E6E6" stroke-width="0.4"/>
<line x1="132.7" y1="434.3" x2="218.9" y2="434.3" stroke="#E6E6E6" stroke-width="0.4"/>
<line x1="132.7" y1="454.8" x2="218.9" y2="454.8" stroke="#E6E6E6" stroke-width="0.4"/>
<line x1="132.7" y1="475.5" x2="218.9" y2="475.5" stroke="#E6E6E6" stroke-width="0.4"/>
<line x1="132.7" y1="383.1" x2="218.9" y2="383.1" stroke="#E6E6E6" stroke-width="0.7"/>
<line x1="131.1" y1="383.1" x2="132.7" y2="383.1" stroke="#333" stroke-width="0.5"/>
<text x="130.1" y="384.6" font-size="4.5" text-anchor="end" fill="#454545">6.0</text>
<line x1="132.7" y1="403.7" x2="218.9" y2="403.7" stroke="#E6E6E6" stroke-width="0.7"/>
<line x1="131.1" y1="403.7" x2="132.7" y2="403.7" stroke="#333" stroke-width="0.5"/>
<text x="130.1" y="405.2" font-size="4.5" text-anchor="end" fill="#454545">5.5</text>
<line x1="132.7" y1="424.2" x2="218.9" y2="424.2" stroke="#E6E6E6" stroke-width="0.7"/>
<line x1="131.1" y1="424.2" x2="132.7" y2="424.2" stroke="#333" stroke-width="0.5"/>
<text x="130.1" y="425.7" font-size="4.5" text-anchor="end" fill="#454545">5.0</text>
<line x1="132.7" y1="444.4" x2="218.9" y2="444.4" stroke="#E6E6E6" stroke-width="0.7"/>
<line x1="131.1" y1="444.4" x2="132.7" y2="444.4" stroke="#333" stroke-width="0.5"/>
<text x="130.1" y="445.9" font-size="4.5" text-anchor="end" fill="#454545">4.5</text>
<line x1="132.7" y1="465.2" x2="218.9" y2="465.2" stroke="#E6E6E6" stroke-width="0.7"/>
<line x1="131.1" y1="465.2" x2="132.7" y2="465.2" stroke="#333" stroke-width="0.5"/>
<text x="130.1" y="466.7" font-size="4.5" text-anchor="end" fill="#454545">4.0</text>
<line x1="148.86" y1="373.5" x2="148.86" y2="477.4" stroke="#E6E6E6" stroke-width="0.7"/>
<line x1="148.86" y1="477.4" x2="148.86" y2="479" stroke="#333" stroke-width="0.5"/>
<text x="148.86" y="482.2" font-size="4.6" text-anchor="middle" fill="#454545">CRC</text>
<line x1="175.8" y1="373.5" x2="175.8" y2="477.4" stroke="#E6E6E6" stroke-width="0.7"/>
<line x1="175.8" y1="477.4" x2="175.8" y2="479" stroke="#333" stroke-width="0.5"/>
<text x="175.8" y="482.2" font-size="4.6" text-anchor="middle" fill="#454545">GC</text>
<line x1="202.74" y1="373.5" x2="202.74" y2="477.4" stroke="#E6E6E6" stroke-width="0.7"/>
<line x1="202.74" y1="477.4" x2="202.74" y2="479" stroke="#333" stroke-width="0.5"/>
<text x="202.74" y="482.2" font-size="4.6" text-anchor="middle" fill="#454545">LIHC</text>
<text transform="translate(121.5 422) rotate(-90)" font-size="5.4" text-anchor="middle">Shannon diversity</text>
<path d="M154.36 393.4L155.53 393.77L156.7 394.13L157.78 394.5L158.7 395.33L159.53 396.17L160.2 397L160.53 398.03L160.7 399.07L160.75 400.1L160.6 401.4L160.33 402.7L159.9 404L159.16 406L158.26 408L157.37 410L156.5 412.77L155.63 415.53L154.86 418.3L154.3 420.53L153.83 422.77L153.4 425L153.06 427.63L152.76 430.27L152.45 432.9L152.1 434.27L151.73 435.63L151.32 437L150.83 438.07L150.3 439.13L149.85 440.2L149.6 441.8L149.43 443.4L149.28 445L149.16 453.83L149.06 462.67L148.96 471.5L148.76 471.5L148.66 462.67L148.56 453.83L148.45 445L148.3 443.4L148.13 441.8L147.87 440.2L147.43 439.13L146.9 438.07L146.4 437L146 435.63L145.63 434.27L145.28 432.9L144.96 430.27L144.66 427.63L144.32 425L143.9 422.77L143.43 420.53L142.86 418.3L142.1 415.53L141.23 412.77L140.35 410L139.46 408L138.56 406L137.82 404L137.4 402.7L137.13 401.4L136.97 400.1L137.03 399.07L137.2 398.03L137.53 397L138.2 396.17L139.03 395.33L139.95 394.5L141.03 394.13L142.2 393.77L143.36 393.4Z" stroke="#000" stroke-width="0.7" fill="#C79FD8" fill-opacity="0.5" stroke-linejoin="round"/>
<line x1="148.86" y1="393.4" x2="148.86" y2="398.6" stroke="#000" stroke-width="0.55"/>
<line x1="148.86" y1="418.3" x2="148.86" y2="447.85" stroke="#000" stroke-width="0.55"/>
<rect x="138.66" y="398.6" width="20.4" height="19.7" fill="#C79FD8" stroke="#000" stroke-width="0.7" fill-opacity="0.5"/>
<line x1="138.66" y1="404.3" x2="159.06" y2="404.3" stroke="#000" stroke-width="1.25"/>
<path d="M182 395.5L183.8 397L185.8 402.3L185.8 412.9L183.3 421.2L179.8 432.9L176.5 445.3L175.1 445.3L171.8 432.9L168.3 421.2L165.8 412.9L165.8 402.3L167.8 397L169.6 395.5Z" stroke="#000" stroke-width="0.7" fill="#E141A1" fill-opacity="0.5" stroke-linejoin="round"/>
<line x1="175.8" y1="395.5" x2="175.8" y2="402.3" stroke="#000" stroke-width="0.55"/>
<line x1="175.8" y1="421.2" x2="175.8" y2="445.3" stroke="#000" stroke-width="0.55"/>
<rect x="165.6" y="402.3" width="20.4" height="18.9" fill="#E141A1" stroke="#000" stroke-width="0.7" fill-opacity="0.5"/>
<line x1="165.6" y1="411.8" x2="186" y2="411.8" stroke="#000" stroke-width="1.25"/>
<path d="M210.74 399.2L208.54 406.1L206.24 413.2L208.54 420.5L210.74 427.4L194.74 427.4L196.94 420.5L199.24 413.2L196.94 406.1L194.74 399.2Z" stroke="#000" stroke-width="0.7" fill="#E9A141" fill-opacity="0.5" stroke-linejoin="round"/>
<line x1="202.74" y1="399.2" x2="202.74" y2="406.1" stroke="#000" stroke-width="0.55"/>
<line x1="202.74" y1="420.5" x2="202.74" y2="427.4" stroke="#000" stroke-width="0.55"/>
<rect x="192.54" y="406.1" width="20.4" height="14.4" fill="#E9A141" stroke="#000" stroke-width="0.7" fill-opacity="0.5"/>
<line x1="192.54" y1="413.2" x2="212.94" y2="413.2" stroke="#000" stroke-width="1.25"/>
<path d="M148.86 391.5V389.2H175.8V391.5" stroke="#000" stroke-width="0.5" fill="none"/>
<text x="162.33" y="387.8" font-size="5.6" text-anchor="middle">0.063</text>
<rect x="132.7" y="373.5" width="86.2" height="103.9" fill="none" stroke="#2b2b2b" stroke-width="0.9"/>
<text x="127.5" y="368.6" font-size="6.45" text-anchor="middle">TRB: V−J combination diversity</text>
<rect x="249.1" y="373.5" width="87.2" height="103.9" fill="#fff"/>
<line x1="249.1" y1="401.9" x2="336.3" y2="401.9" stroke="#E6E6E6" stroke-width="0.4"/>
<line x1="249.1" y1="422.05" x2="336.3" y2="422.05" stroke="#E6E6E6" stroke-width="0.4"/>
<line x1="249.1" y1="442.3" x2="336.3" y2="442.3" stroke="#E6E6E6" stroke-width="0.4"/>
<line x1="249.1" y1="462.4" x2="336.3" y2="462.4" stroke="#E6E6E6" stroke-width="0.4"/>
<line x1="249.1" y1="381.9" x2="336.3" y2="381.9" stroke="#E6E6E6" stroke-width="0.4"/>
<line x1="249.1" y1="391.9" x2="336.3" y2="391.9" stroke="#E6E6E6" stroke-width="0.7"/>
<line x1="247.5" y1="391.9" x2="249.1" y2="391.9" stroke="#333" stroke-width="0.5"/>
<text x="246.5" y="393.4" font-size="4.5" text-anchor="end" fill="#454545">0.7</text>
<line x1="249.1" y1="411.9" x2="336.3" y2="411.9" stroke="#E6E6E6" stroke-width="0.7"/>
<line x1="247.5" y1="411.9" x2="249.1" y2="411.9" stroke="#333" stroke-width="0.5"/>
<text x="246.5" y="413.4" font-size="4.5" text-anchor="end" fill="#454545">0.6</text>
<line x1="249.1" y1="432.2" x2="336.3" y2="432.2" stroke="#E6E6E6" stroke-width="0.7"/>
<line x1="247.5" y1="432.2" x2="249.1" y2="432.2" stroke="#333" stroke-width="0.5"/>
<text x="246.5" y="433.7" font-size="4.5" text-anchor="end" fill="#454545">0.5</text>
<line x1="249.1" y1="452.4" x2="336.3" y2="452.4" stroke="#E6E6E6" stroke-width="0.7"/>
<line x1="247.5" y1="452.4" x2="249.1" y2="452.4" stroke="#333" stroke-width="0.5"/>
<text x="246.5" y="453.9" font-size="4.5" text-anchor="end" fill="#454545">0.4</text>
<line x1="249.1" y1="472.4" x2="336.3" y2="472.4" stroke="#E6E6E6" stroke-width="0.7"/>
<line x1="247.5" y1="472.4" x2="249.1" y2="472.4" stroke="#333" stroke-width="0.5"/>
<text x="246.5" y="473.9" font-size="4.5" text-anchor="end" fill="#454545">0.3</text>
<line x1="265.45" y1="373.5" x2="265.45" y2="477.4" stroke="#E6E6E6" stroke-width="0.7"/>
<line x1="265.45" y1="477.4" x2="265.45" y2="479" stroke="#333" stroke-width="0.5"/>
<text x="265.45" y="482.2" font-size="4.6" text-anchor="middle" fill="#454545">CRC</text>
<line x1="292.7" y1="373.5" x2="292.7" y2="477.4" stroke="#E6E6E6" stroke-width="0.7"/>
<line x1="292.7" y1="477.4" x2="292.7" y2="479" stroke="#333" stroke-width="0.5"/>
<text x="292.7" y="482.2" font-size="4.6" text-anchor="middle" fill="#454545">GC</text>
<line x1="319.95" y1="373.5" x2="319.95" y2="477.4" stroke="#E6E6E6" stroke-width="0.7"/>
<line x1="319.95" y1="477.4" x2="319.95" y2="479" stroke="#333" stroke-width="0.5"/>
<text x="319.95" y="482.2" font-size="4.6" text-anchor="middle" fill="#454545">LIHC</text>
<text transform="translate(238 422) rotate(-90)" font-size="5.4" text-anchor="middle">Simpson diversity</text>
<path d="M265.95 395.5L266.38 396L266.82 396.5L267.18 397L267.42 397.83L267.58 398.67L267.68 399.5L267.65 400.33L267.55 401.17L267.41 402L267.18 403L266.92 404L266.68 405L266.52 406.67L266.38 408.33L266.26 410L266.15 412.33L266.05 414.67L265.94 417L265.82 433.67L265.68 450.33L265.55 467L265.35 467L265.22 450.33L265.08 433.67L264.96 417L264.85 414.67L264.75 412.33L264.64 410L264.52 408.33L264.38 406.67L264.22 405L263.98 404L263.72 403L263.49 402L263.35 401.17L263.25 400.33L263.22 399.5L263.32 398.67L263.48 397.83L263.72 397L264.08 396.5L264.52 396L264.95 395.5Z" stroke="#000" stroke-width="0.7" fill="#C79FD8" fill-opacity="0.5" stroke-linejoin="round"/>
<line x1="265.45" y1="395.5" x2="265.45" y2="402.3" stroke="#000" stroke-width="0.55"/>
<line x1="265.45" y1="417.4" x2="265.45" y2="440.05" stroke="#000" stroke-width="0.55"/>
<rect x="255.25" y="402.3" width="20.4" height="15.1" fill="#C79FD8" stroke="#000" stroke-width="0.7" fill-opacity="0.5"/>
<line x1="255.25" y1="408.3" x2="275.65" y2="408.3" stroke="#000" stroke-width="1.25"/>
<path d="M293.2 394.3L293.63 394.87L294.07 395.43L294.44 396L294.7 397L294.9 398L295.02 399L294.97 400L294.83 401L294.69 402L294.53 403L294.37 404L294.2 405L294.03 406.33L293.87 407.67L293.7 409L293.53 411L293.37 413L293.21 415L293.07 434.33L292.93 453.67L292.8 473L292.6 473L292.47 453.67L292.33 434.33L292.19 415L292.03 413L291.87 411L291.7 409L291.53 407.67L291.37 406.33L291.2 405L291.03 404L290.87 403L290.71 402L290.57 401L290.43 400L290.38 399L290.5 398L290.7 397L290.96 396L291.33 395.43L291.77 394.87L292.2 394.3Z" stroke="#000" stroke-width="0.7" fill="#E141A1" fill-opacity="0.5" stroke-linejoin="round"/>
<line x1="292.7" y1="394.3" x2="292.7" y2="400.5" stroke="#000" stroke-width="0.55"/>
<line x1="292.7" y1="409.2" x2="292.7" y2="422.25" stroke="#000" stroke-width="0.55"/>
<rect x="282.5" y="400.5" width="20.4" height="8.7" fill="#E141A1" stroke="#000" stroke-width="0.7" fill-opacity="0.5"/>
<line x1="282.5" y1="405.2" x2="302.9" y2="405.2" stroke="#000" stroke-width="1.25"/>
<path d="M307.5 393.7H332L330.4 395.5L332 397.4H307.5L309.1 395.5Z" stroke="#000" stroke-width="0.5" fill="#000"/>
<path d="M265.45 392.4V390.1H292.7V392.4" stroke="#000" stroke-width="0.5" fill="none"/>
<text x="279.07" y="388.7" font-size="5.6" text-anchor="middle">0.033</text>
<rect x="249.1" y="373.5" width="87.2" height="103.9" fill="none" stroke="#2b2b2b" stroke-width="0.9"/>
<rect x="362" y="373.5" width="86.4" height="103.9" fill="#fff"/>
<line x1="362" y1="403.4" x2="448.4" y2="403.4" stroke="#E6E6E6" stroke-width="0.4"/>
<line x1="362" y1="429.9" x2="448.4" y2="429.9" stroke="#E6E6E6" stroke-width="0.4"/>
<line x1="362" y1="456.4" x2="448.4" y2="456.4" stroke="#E6E6E6" stroke-width="0.4"/>
<line x1="362" y1="376.8" x2="448.4" y2="376.8" stroke="#E6E6E6" stroke-width="0.4"/>
<line x1="362" y1="390.1" x2="448.4" y2="390.1" stroke="#E6E6E6" stroke-width="0.7"/>
<line x1="360.4" y1="390.1" x2="362" y2="390.1" stroke="#333" stroke-width="0.5"/>
<text x="359.4" y="391.6" font-size="4.5" text-anchor="end" fill="#454545">1.50</text>
<line x1="362" y1="416.7" x2="448.4" y2="416.7" stroke="#E6E6E6" stroke-width="0.7"/>
<line x1="360.4" y1="416.7" x2="362" y2="416.7" stroke="#333" stroke-width="0.5"/>
<text x="359.4" y="418.2" font-size="4.5" text-anchor="end" fill="#454545">1.25</text>
<line x1="362" y1="443.1" x2="448.4" y2="443.1" stroke="#E6E6E6" stroke-width="0.7"/>
<line x1="360.4" y1="443.1" x2="362" y2="443.1" stroke="#333" stroke-width="0.5"/>
<text x="359.4" y="444.6" font-size="4.5" text-anchor="end" fill="#454545">1.00</text>
<line x1="362" y1="469.7" x2="448.4" y2="469.7" stroke="#E6E6E6" stroke-width="0.7"/>
<line x1="360.4" y1="469.7" x2="362" y2="469.7" stroke="#333" stroke-width="0.5"/>
<text x="359.4" y="471.2" font-size="4.5" text-anchor="end" fill="#454545">0.75</text>
<line x1="378.2" y1="373.5" x2="378.2" y2="477.4" stroke="#E6E6E6" stroke-width="0.7"/>
<line x1="378.2" y1="477.4" x2="378.2" y2="479" stroke="#333" stroke-width="0.5"/>
<text x="378.2" y="482.2" font-size="4.6" text-anchor="middle" fill="#454545">CRC</text>
<line x1="405.2" y1="373.5" x2="405.2" y2="477.4" stroke="#E6E6E6" stroke-width="0.7"/>
<line x1="405.2" y1="477.4" x2="405.2" y2="479" stroke="#333" stroke-width="0.5"/>
<text x="405.2" y="482.2" font-size="4.6" text-anchor="middle" fill="#454545">GC</text>
<line x1="432.2" y1="373.5" x2="432.2" y2="477.4" stroke="#E6E6E6" stroke-width="0.7"/>
<line x1="432.2" y1="477.4" x2="432.2" y2="479" stroke="#333" stroke-width="0.5"/>
<text x="432.2" y="482.2" font-size="4.6" text-anchor="middle" fill="#454545">LIHC</text>
<text transform="translate(348.2 422) rotate(-90)" font-size="5.4" text-anchor="middle">Shannon diversity</text>
<path d="M378.6 401.6L378.8 402.73L379 403.87L379.22 405L379.47 406.67L379.73 408.33L379.97 410L380.17 411.17L380.33 412.33L380.43 413.5L380.4 415L380.3 416.5L380.16 418L379.93 420L379.67 422L379.43 424L379.23 426L379.07 428L378.92 430L378.8 433.33L378.7 436.67L378.6 440L378.5 449.3L378.4 458.6L378.3 467.9L378.1 467.9L378 458.6L377.9 449.3L377.8 440L377.7 436.67L377.6 433.33L377.48 430L377.33 428L377.17 426L376.97 424L376.73 422L376.47 420L376.24 418L376.1 416.5L376 415L375.97 413.5L376.07 412.33L376.23 411.17L376.43 410L376.67 408.33L376.93 406.67L377.18 405L377.4 403.87L377.6 402.73L377.8 401.6Z" stroke="#000" stroke-width="0.7" fill="#C79FD8" fill-opacity="0.5" stroke-linejoin="round"/>
<line x1="378.2" y1="401.6" x2="378.2" y2="413.2" stroke="#000" stroke-width="0.55"/>
<line x1="378.2" y1="429.4" x2="378.2" y2="453.7" stroke="#000" stroke-width="0.55"/>
<rect x="368" y="413.2" width="20.4" height="16.2" fill="#C79FD8" stroke="#000" stroke-width="0.7" fill-opacity="0.5"/>
<line x1="368" y1="419.8" x2="388.4" y2="419.8" stroke="#000" stroke-width="1.25"/>
<path d="M405.6 401L405.87 402.33L406.13 403.67L406.42 405L406.73 406.67L407.07 408.33L407.33 410L407.47 411.33L407.53 412.67L407.53 414L407.4 415.33L407.2 416.67L406.98 418L406.73 420L406.47 422L406.22 424L406.03 426.67L405.87 429.33L405.71 432L405.57 445.53L405.43 459.07L405.3 472.6L405.1 472.6L404.97 459.07L404.83 445.53L404.69 432L404.53 429.33L404.37 426.67L404.18 424L403.93 422L403.67 420L403.42 418L403.2 416.67L403 415.33L402.87 414L402.87 412.67L402.93 411.33L403.07 410L403.33 408.33L403.67 406.67L403.98 405L404.27 403.67L404.53 402.33L404.8 401Z" stroke="#000" stroke-width="0.7" fill="#E141A1" fill-opacity="0.5" stroke-linejoin="round"/>
<line x1="405.2" y1="401" x2="405.2" y2="410.5" stroke="#000" stroke-width="0.55"/>
<line x1="405.2" y1="423.6" x2="405.2" y2="443.25" stroke="#000" stroke-width="0.55"/>
<rect x="395" y="410.5" width="20.4" height="13.1" fill="#E141A1" stroke="#000" stroke-width="0.7" fill-opacity="0.5"/>
<line x1="395" y1="416.9" x2="415.4" y2="416.9" stroke="#000" stroke-width="1.25"/>
<path d="M420.3 393.7H445.3L443.6 396.2L445.3 398.8H420.3L422 396.2Z" stroke="#000" stroke-width="0.5" fill="#15100a"/>
<path d="M378.2 392.4V390.1H405.2V392.4" stroke="#000" stroke-width="0.5" fill="none"/>
<text x="391.7" y="388.7" font-size="5.6" text-anchor="middle">0.097</text>
<rect x="362" y="373.5" width="86.4" height="103.9" fill="none" stroke="#2b2b2b" stroke-width="0.9"/>
<text x="348" y="368.6" font-size="6.45" text-anchor="middle">TRD: V−J combination diversity</text>
<rect x="483.2" y="373.5" width="87.3" height="103.9" fill="#fff"/>
<line x1="483.2" y1="416.6" x2="570.5" y2="416.6" stroke="#E6E6E6" stroke-width="0.4"/>
<line x1="483.2" y1="449.1" x2="570.5" y2="449.1" stroke="#E6E6E6" stroke-width="0.4"/>
<line x1="483.2" y1="384" x2="570.5" y2="384" stroke="#E6E6E6" stroke-width="0.4"/>
<line x1="483.2" y1="400.3" x2="570.5" y2="400.3" stroke="#E6E6E6" stroke-width="0.7"/>
<line x1="481.6" y1="400.3" x2="483.2" y2="400.3" stroke="#333" stroke-width="0.5"/>
<text x="480.6" y="401.8" font-size="4.5" text-anchor="end" fill="#454545">0.84</text>
<line x1="483.2" y1="432.9" x2="570.5" y2="432.9" stroke="#E6E6E6" stroke-width="0.7"/>
<line x1="481.6" y1="432.9" x2="483.2" y2="432.9" stroke="#333" stroke-width="0.5"/>
<text x="480.6" y="434.4" font-size="4.5" text-anchor="end" fill="#454545">0.82</text>
<line x1="483.2" y1="465.3" x2="570.5" y2="465.3" stroke="#E6E6E6" stroke-width="0.7"/>
<line x1="481.6" y1="465.3" x2="483.2" y2="465.3" stroke="#333" stroke-width="0.5"/>
<text x="480.6" y="466.8" font-size="4.5" text-anchor="end" fill="#454545">0.80</text>
<line x1="499.57" y1="373.5" x2="499.57" y2="477.4" stroke="#E6E6E6" stroke-width="0.7"/>
<line x1="499.57" y1="477.4" x2="499.57" y2="479" stroke="#333" stroke-width="0.5"/>
<text x="499.57" y="482.2" font-size="4.6" text-anchor="middle" fill="#454545">CRC</text>
<line x1="526.85" y1="373.5" x2="526.85" y2="477.4" stroke="#E6E6E6" stroke-width="0.7"/>
<line x1="526.85" y1="477.4" x2="526.85" y2="479" stroke="#333" stroke-width="0.5"/>
<text x="526.85" y="482.2" font-size="4.6" text-anchor="middle" fill="#454545">GC</text>
<line x1="554.13" y1="373.5" x2="554.13" y2="477.4" stroke="#E6E6E6" stroke-width="0.7"/>
<line x1="554.13" y1="477.4" x2="554.13" y2="479" stroke="#333" stroke-width="0.5"/>
<text x="554.13" y="482.2" font-size="4.6" text-anchor="middle" fill="#454545">LIHC</text>
<text transform="translate(469.8 422) rotate(-90)" font-size="5.4" text-anchor="middle">Simpson diversity</text>
<path d="M500.67 394.3L500.67 397.2L500.67 400.1L500.7 403L500.8 404L500.94 405L501.16 406L501.57 407.33L502.07 408.67L502.74 410L503.74 411.67L504.9 413.33L506.05 415L507.17 416.67L508.27 418.33L509.19 420L509.74 421.27L510.1 422.53L510.26 423.8L510 424.87L509.54 425.93L508.89 427L507.9 428.33L506.74 429.67L505.61 431L504.57 432.33L503.57 433.67L502.69 435L502.07 436.13L501.57 437.27L501.22 438.4L501.17 439.93L501.27 441.47L501.32 443L501.27 444.67L501.17 446.33L501.04 448L500.84 450.33L500.6 452.67L500.39 455L500.2 460.87L500.04 466.73L499.87 472.6L499.27 472.6L499.1 466.73L498.94 460.87L498.75 455L498.54 452.67L498.3 450.33L498.1 448L497.97 446.33L497.87 444.67L497.82 443L497.87 441.47L497.97 439.93L497.92 438.4L497.57 437.27L497.07 436.13L496.44 435L495.57 433.67L494.57 432.33L493.53 431L492.4 429.67L491.24 428.33L490.24 427L489.6 425.93L489.14 424.87L488.88 423.8L489.04 422.53L489.4 421.27L489.95 420L490.87 418.33L491.97 416.67L493.09 415L494.24 413.33L495.4 411.67L496.4 410L497.07 408.67L497.57 407.33L497.98 406L498.2 405L498.34 404L498.44 403L498.47 400.1L498.47 397.2L498.47 394.3Z" stroke="#000" stroke-width="0.7" fill="#C79FD8" fill-opacity="0.5" stroke-linejoin="round"/>
<line x1="499.57" y1="402.8" x2="499.57" y2="418.7" stroke="#000" stroke-width="0.55"/>
<line x1="499.57" y1="429.3" x2="499.57" y2="445.2" stroke="#000" stroke-width="0.55"/>
<rect x="489.37" y="418.7" width="20.4" height="10.6" fill="#C79FD8" stroke="#000" stroke-width="0.7" fill-opacity="0.5"/>
<line x1="489.37" y1="424.7" x2="509.77" y2="424.7" stroke="#000" stroke-width="1.25"/>
<path d="M528.35 406.5L529.02 407L529.68 407.5L530.48 408L531.52 409.33L532.68 410.67L533.85 412L535.02 413.33L536.18 414.67L537.23 416L538.02 417.27L538.68 418.53L539.1 419.8L539.02 420.87L538.68 421.93L538.14 423L537.18 424.33L536.02 425.67L534.85 427L533.68 428.67L532.52 430.33L531.48 432L530.68 433.67L530.02 435.33L529.43 437L529.02 438.07L528.68 439.13L528.35 440.2L525.35 440.2L525.02 439.13L524.68 438.07L524.27 437L523.68 435.33L523.02 433.67L522.23 432L521.18 430.33L520.02 428.67L518.85 427L517.68 425.67L516.52 424.33L515.56 423L515.02 421.93L514.68 420.87L514.6 419.8L515.02 418.53L515.68 417.27L516.48 416L517.52 414.67L518.68 413.33L519.85 412L521.02 410.67L522.18 409.33L523.23 408L524.02 407.5L524.68 407L525.35 406.5Z" stroke="#000" stroke-width="0.7" fill="#E141A1" fill-opacity="0.5" stroke-linejoin="round"/>
<line x1="526.85" y1="406.5" x2="526.85" y2="418" stroke="#000" stroke-width="0.55"/>
<line x1="526.85" y1="428.3" x2="526.85" y2="440.2" stroke="#000" stroke-width="0.55"/>
<rect x="516.65" y="418" width="20.4" height="10.3" fill="#E141A1" stroke="#000" stroke-width="0.7" fill-opacity="0.5"/>
<line x1="516.65" y1="421.1" x2="537.05" y2="421.1" stroke="#000" stroke-width="1.25"/>
<path d="M559.83 403.2L558.33 410.1L556.63 417L558.33 424.2L559.83 431.4L548.43 431.4L549.93 424.2L551.63 417L549.93 410.1L548.43 403.2Z" stroke="#000" stroke-width="0.7" fill="#E9A141" fill-opacity="0.5" stroke-linejoin="round"/>
<line x1="554.13" y1="403.2" x2="554.13" y2="410.1" stroke="#000" stroke-width="0.55"/>
<line x1="554.13" y1="424.2" x2="554.13" y2="431.4" stroke="#000" stroke-width="0.55"/>
<rect x="543.93" y="410.1" width="20.4" height="14.1" fill="#E9A141" stroke="#000" stroke-width="0.7" fill-opacity="0.5"/>
<line x1="543.93" y1="417" x2="564.33" y2="417" stroke="#000" stroke-width="1.25"/>
<path d="M499.57 392.4V390.1H526.85V392.4" stroke="#000" stroke-width="0.5" fill="none"/>
<text x="513.21" y="388.7" font-size="5.6" text-anchor="middle">0.13</text>
<rect x="483.2" y="373.5" width="87.3" height="103.9" fill="none" stroke="#2b2b2b" stroke-width="0.9"/>
<rect x="593.7" y="373.5" width="87.5" height="103.9" fill="#fff"/>
<line x1="593.7" y1="399.35" x2="681.2" y2="399.35" stroke="#E6E6E6" stroke-width="0.4"/>
<line x1="593.7" y1="432" x2="681.2" y2="432" stroke="#E6E6E6" stroke-width="0.4"/>
<line x1="593.7" y1="464.65" x2="681.2" y2="464.65" stroke="#E6E6E6" stroke-width="0.4"/>
<line x1="593.7" y1="383.1" x2="681.2" y2="383.1" stroke="#E6E6E6" stroke-width="0.7"/>
<line x1="592.1" y1="383.1" x2="593.7" y2="383.1" stroke="#333" stroke-width="0.5"/>
<text x="591.1" y="384.6" font-size="4.5" text-anchor="end" fill="#454545">3.2</text>
<line x1="593.7" y1="415.6" x2="681.2" y2="415.6" stroke="#E6E6E6" stroke-width="0.7"/>
<line x1="592.1" y1="415.6" x2="593.7" y2="415.6" stroke="#333" stroke-width="0.5"/>
<text x="591.1" y="417.1" font-size="4.5" text-anchor="end" fill="#454545">3.0</text>
<line x1="593.7" y1="448.4" x2="681.2" y2="448.4" stroke="#E6E6E6" stroke-width="0.7"/>
<line x1="592.1" y1="448.4" x2="593.7" y2="448.4" stroke="#333" stroke-width="0.5"/>
<text x="591.1" y="449.9" font-size="4.5" text-anchor="end" fill="#454545">2.8</text>
<line x1="610.11" y1="373.5" x2="610.11" y2="477.4" stroke="#E6E6E6" stroke-width="0.7"/>
<line x1="610.11" y1="477.4" x2="610.11" y2="479" stroke="#333" stroke-width="0.5"/>
<text x="610.11" y="482.2" font-size="4.6" text-anchor="middle" fill="#454545">CRC</text>
<line x1="637.45" y1="373.5" x2="637.45" y2="477.4" stroke="#E6E6E6" stroke-width="0.7"/>
<line x1="637.45" y1="477.4" x2="637.45" y2="479" stroke="#333" stroke-width="0.5"/>
<text x="637.45" y="482.2" font-size="4.6" text-anchor="middle" fill="#454545">GC</text>
<line x1="664.79" y1="373.5" x2="664.79" y2="477.4" stroke="#E6E6E6" stroke-width="0.7"/>
<line x1="664.79" y1="477.4" x2="664.79" y2="479" stroke="#333" stroke-width="0.5"/>
<text x="664.79" y="482.2" font-size="4.6" text-anchor="middle" fill="#454545">LIHC</text>
<text transform="translate(583 422) rotate(-90)" font-size="5.4" text-anchor="middle">Shannon diversity</text>
<path d="M610.81 394.3L610.84 398.2L610.87 402.1L610.96 406L611.14 407.33L611.37 408.67L611.76 410L612.44 412L613.27 414L614.19 416L615.27 418L616.44 420L617.55 422L618.54 424L619.47 426L620.22 428L620.61 429.03L620.81 430.07L620.84 431.1L620.54 432.4L620.07 433.7L619.43 435L618.44 436.67L617.27 438.33L616.19 440L615.27 442L614.44 444L613.69 446L613.11 448L612.61 450L612.18 452L611.91 453.53L611.71 455.07L611.54 456.6L611.44 458.4L611.37 460.2L611.26 462L611.07 465.53L610.84 469.07L610.61 472.6L609.61 472.6L609.37 469.07L609.14 465.53L608.95 462L608.84 460.2L608.77 458.4L608.67 456.6L608.51 455.07L608.31 453.53L608.03 452L607.61 450L607.11 448L606.52 446L605.77 444L604.94 442L604.02 440L602.94 438.33L601.77 436.67L600.78 435L600.14 433.7L599.67 432.4L599.37 431.1L599.41 430.07L599.61 429.03L599.99 428L600.74 426L601.67 424L602.66 422L603.77 420L604.94 418L606.02 416L606.94 414L607.77 412L608.46 410L608.84 408.67L609.07 407.33L609.26 406L609.34 402.1L609.37 398.2L609.41 394.3Z" stroke="#000" stroke-width="0.7" fill="#C79FD8" fill-opacity="0.5" stroke-linejoin="round"/>
<line x1="610.11" y1="401.9" x2="610.11" y2="423.8" stroke="#000" stroke-width="0.55"/>
<line x1="610.11" y1="438.4" x2="610.11" y2="460.3" stroke="#000" stroke-width="0.55"/>
<rect x="599.91" y="423.8" width="20.4" height="14.6" fill="#C79FD8" stroke="#000" stroke-width="0.7" fill-opacity="0.5"/>
<line x1="599.91" y1="430.7" x2="620.31" y2="430.7" stroke="#000" stroke-width="1.25"/>
<path d="M638.95 408.8L639.45 409.53L639.95 410.27L640.53 411L641.28 412.67L642.12 414.33L642.99 416L643.95 418L644.95 420L645.95 422L646.95 423.67L647.95 425.33L648.78 427L649.28 428.07L649.62 429.13L649.78 430.2L649.62 431.13L649.28 432.07L648.74 433L647.78 434.67L646.62 436.33L645.49 438L644.45 439.67L643.45 441.33L642.56 443L641.88 444.67L641.32 446.33L640.78 448L640.32 448.87L639.88 449.73L639.45 450.6L635.45 450.6L635.02 449.73L634.58 448.87L634.12 448L633.58 446.33L633.02 444.67L632.34 443L631.45 441.33L630.45 439.67L629.41 438L628.28 436.33L627.12 434.67L626.16 433L625.62 432.07L625.28 431.13L625.12 430.2L625.28 429.13L625.62 428.07L626.12 427L626.95 425.33L627.95 423.67L628.95 422L629.95 420L630.95 418L631.91 416L632.78 414.33L633.62 412.67L634.37 411L634.95 410.27L635.45 409.53L635.95 408.8Z" stroke="#000" stroke-width="0.7" fill="#E141A1" fill-opacity="0.5" stroke-linejoin="round"/>
<line x1="637.45" y1="408.8" x2="637.45" y2="423.8" stroke="#000" stroke-width="0.55"/>
<line x1="637.45" y1="435.6" x2="637.45" y2="450.6" stroke="#000" stroke-width="0.55"/>
<rect x="627.25" y="423.8" width="20.4" height="11.8" fill="#E141A1" stroke="#000" stroke-width="0.7" fill-opacity="0.5"/>
<line x1="627.25" y1="430.2" x2="647.65" y2="430.2" stroke="#000" stroke-width="1.25"/>
<path d="M671.59 405.6L669.79 412.5L667.79 419.2L669.79 426L671.59 432.9L657.99 432.9L659.79 426L661.79 419.2L659.79 412.5L657.99 405.6Z" stroke="#000" stroke-width="0.7" fill="#E9A141" fill-opacity="0.5" stroke-linejoin="round"/>
<line x1="664.79" y1="405.6" x2="664.79" y2="412.5" stroke="#000" stroke-width="0.55"/>
<line x1="664.79" y1="426" x2="664.79" y2="432.9" stroke="#000" stroke-width="0.55"/>
<rect x="654.59" y="412.5" width="20.4" height="13.5" fill="#E9A141" stroke="#000" stroke-width="0.7" fill-opacity="0.5"/>
<line x1="654.59" y1="419.2" x2="674.99" y2="419.2" stroke="#000" stroke-width="1.25"/>
<path d="M610.11 392.4V390.1H637.45V392.4" stroke="#000" stroke-width="0.5" fill="none"/>
<text x="623.78" y="388.7" font-size="5.6" text-anchor="middle">0.54</text>
<rect x="593.7" y="373.5" width="87.5" height="103.9" fill="none" stroke="#2b2b2b" stroke-width="0.9"/>
<text x="584" y="368.6" font-size="6.45" text-anchor="middle">TRG: V−J combination diversity</text>
<text x="0.6" y="499" font-size="13.4">C</text>
<rect x="10.4" y="514.4" width="454.7" height="49.2" fill="#fff"/>
<g stroke="#DDDDDD" stroke-width="0.3" stroke-dasharray="0.7 1.1">
<line x1="13.7" y1="514.4" x2="13.7" y2="563.6"/>
<line x1="19.29" y1="514.4" x2="19.29" y2="563.6"/>
<line x1="24.88" y1="514.4" x2="24.88" y2="563.6"/>
<line x1="30.47" y1="514.4" x2="30.47" y2="563.6"/>
<line x1="36.06" y1="514.4" x2="36.06" y2="563.6"/>
<line x1="41.65" y1="514.4" x2="41.65" y2="563.6"/>
<line x1="47.24" y1="514.4" x2="47.24" y2="563.6"/>
<line x1="52.83" y1="514.4" x2="52.83" y2="563.6"/>
<line x1="58.42" y1="514.4" x2="58.42" y2="563.6"/>
<line x1="64.01" y1="514.4" x2="64.01" y2="563.6"/>
<line x1="69.6" y1="514.4" x2="69.6" y2="563.6"/>
<line x1="75.19" y1="514.4" x2="75.19" y2="563.6"/>
<line x1="80.78" y1="514.4" x2="80.78" y2="563.6"/>
<line x1="86.37" y1="514.4" x2="86.37" y2="563.6"/>
<line x1="91.96" y1="514.4" x2="91.96" y2="563.6"/>
<line x1="97.55" y1="514.4" x2="97.55" y2="563.6"/>
<line x1="103.14" y1="514.4" x2="103.14" y2="563.6"/>
<line x1="108.73" y1="514.4" x2="108.73" y2="563.6"/>
<line x1="114.32" y1="514.4" x2="114.32" y2="563.6"/>
<line x1="119.91" y1="514.4" x2="119.91" y2="563.6"/>
<line x1="125.5" y1="514.4" x2="125.5" y2="563.6"/>
<line x1="131.09" y1="514.4" x2="131.09" y2="563.6"/>
<line x1="136.68" y1="514.4" x2="136.68" y2="563.6"/>
<line x1="142.27" y1="514.4" x2="142.27" y2="563.6"/>
<line x1="147.86" y1="514.4" x2="147.86" y2="563.6"/>
<line x1="153.45" y1="514.4" x2="153.45" y2="563.6"/>
<line x1="159.04" y1="514.4" x2="159.04" y2="563.6"/>
<line x1="164.63" y1="514.4" x2="164.63" y2="563.6"/>
<line x1="170.22" y1="514.4" x2="170.22" y2="563.6"/>
<line x1="175.81" y1="514.4" x2="175.81" y2="563.6"/>
<line x1="181.4" y1="514.4" x2="181.4" y2="563.6"/>
<line x1="186.99" y1="514.4" x2="186.99" y2="563.6"/>
<line x1="192.58" y1="514.4" x2="192.58" y2="563.6"/>
<line x1="198.17" y1="514.4" x2="198.17" y2="563.6"/>
<line x1="203.76" y1="514.4" x2="203.76" y2="563.6"/>
<line x1="209.35" y1="514.4" x2="209.35" y2="563.6"/>
<line x1="214.94" y1="514.4" x2="214.94" y2="563.6"/>
<line x1="220.53" y1="514.4" x2="220.53" y2="563.6"/>
<line x1="226.12" y1="514.4" x2="226.12" y2="563.6"/>
<line x1="231.71" y1="514.4" x2="231.71" y2="563.6"/>
<line x1="237.3" y1="514.4" x2="237.3" y2="563.6"/>
<line x1="242.89" y1="514.4" x2="242.89" y2="563.6"/>
<line x1="248.48" y1="514.4" x2="248.48" y2="563.6"/>
<line x1="254.07" y1="514.4" x2="254.07" y2="563.6"/>
<line x1="259.66" y1="514.4" x2="259.66" y2="563.6"/>
<line x1="265.25" y1="514.4" x2="265.25" y2="563.6"/>
<line x1="270.84" y1="514.4" x2="270.84" y2="563.6"/>
<line x1="276.43" y1="514.4" x2="276.43" y2="563.6"/>
<line x1="282.02" y1="514.4" x2="282.02" y2="563.6"/>
<line x1="287.61" y1="514.4" x2="287.61" y2="563.6"/>
<line x1="293.2" y1="514.4" x2="293.2" y2="563.6"/>
<line x1="298.79" y1="514.4" x2="298.79" y2="563.6"/>
<line x1="304.38" y1="514.4" x2="304.38" y2="563.6"/>
<line x1="309.97" y1="514.4" x2="309.97" y2="563.6"/>
<line x1="315.56" y1="514.4" x2="315.56" y2="563.6"/>
<line x1="321.15" y1="514.4" x2="321.15" y2="563.6"/>
<line x1="326.74" y1="514.4" x2="326.74" y2="563.6"/>
<line x1="332.33" y1="514.4" x2="332.33" y2="563.6"/>
<line x1="337.92" y1="514.4" x2="337.92" y2="563.6"/>
<line x1="343.51" y1="514.4" x2="343.51" y2="563.6"/>
<line x1="349.1" y1="514.4" x2="349.1" y2="563.6"/>
<line x1="354.69" y1="514.4" x2="354.69" y2="563.6"/>
<line x1="360.28" y1="514.4" x2="360.28" y2="563.6"/>
<line x1="365.87" y1="514.4" x2="365.87" y2="563.6"/>
<line x1="371.46" y1="514.4" x2="371.46" y2="563.6"/>
<line x1="377.05" y1="514.4" x2="377.05" y2="563.6"/>
<line x1="382.64" y1="514.4" x2="382.64" y2="563.6"/>
<line x1="388.23" y1="514.4" x2="388.23" y2="563.6"/>
<line x1="393.82" y1="514.4" x2="393.82" y2="563.6"/>
<line x1="399.41" y1="514.4" x2="399.41" y2="563.6"/>
<line x1="405" y1="514.4" x2="405" y2="563.6"/>
<line x1="410.59" y1="514.4" x2="410.59" y2="563.6"/>
<line x1="416.18" y1="514.4" x2="416.18" y2="563.6"/>
<line x1="421.77" y1="514.4" x2="421.77" y2="563.6"/>
<line x1="427.36" y1="514.4" x2="427.36" y2="563.6"/>
<line x1="432.95" y1="514.4" x2="432.95" y2="563.6"/>
<line x1="438.54" y1="514.4" x2="438.54" y2="563.6"/>
<line x1="444.13" y1="514.4" x2="444.13" y2="563.6"/>
<line x1="449.72" y1="514.4" x2="449.72" y2="563.6"/>
<line x1="455.31" y1="514.4" x2="455.31" y2="563.6"/>
<line x1="460.9" y1="514.4" x2="460.9" y2="563.6"/>
<line x1="10.4" y1="527.7" x2="465.1" y2="527.7"/>
<line x1="10.4" y1="550.5" x2="465.1" y2="550.5"/>
</g>
<circle cx="13.7" cy="527.7" r="1.55" fill="#FF0A0A"/>
<circle cx="13.7" cy="550.5" r="1.5" fill="#0A6A0A"/>
<circle cx="19.29" cy="527.7" r="1.55" fill="#FF0A0A"/>
<circle cx="19.29" cy="550.5" r="1.5" fill="#0A6A0A"/>
<circle cx="24.88" cy="527.7" r="1.55" fill="#FF0A0A"/>
<circle cx="24.88" cy="550.5" r="1.5" fill="#0A6A0A"/>
<circle cx="30.47" cy="527.7" r="1.55" fill="#FF0A0A"/>
<circle cx="30.47" cy="550.5" r="1.5" fill="#0A6A0A"/>
<circle cx="36.06" cy="527.7" r="1.55" fill="#FF0A0A"/>
<circle cx="36.06" cy="550.5" r="1.5" fill="#0A6A0A"/>
<circle cx="41.65" cy="527.7" r="1.55" fill="#FF0A0A"/>
<circle cx="41.65" cy="550.5" r="1.5" fill="#0A6A0A"/>
<circle cx="47.24" cy="527.7" r="1.55" fill="#FF0A0A"/>
<circle cx="47.24" cy="550.5" r="1.5" fill="#0A6A0A"/>
<circle cx="52.83" cy="527.7" r="1.55" fill="#FF0A0A"/>
<circle cx="52.83" cy="550.5" r="1.5" fill="#0A6A0A"/>
<circle cx="58.42" cy="527.7" r="1.5" fill="#0A6A0A"/>
<circle cx="58.42" cy="550.5" r="1.5" fill="#FF0A0A"/>
<circle cx="64.01" cy="527.7" r="1.55" fill="#FF0A0A"/>
<circle cx="64.01" cy="550.5" r="1.5" fill="#0A6A0A"/>
<circle cx="69.6" cy="527.7" r="1.5" fill="#0A6A0A"/>
<circle cx="69.6" cy="550.5" r="1.5" fill="#FF0A0A"/>
<circle cx="75.19" cy="527.7" r="1.55" fill="#FF0A0A"/>
<circle cx="75.19" cy="550.5" r="1.5" fill="#0A6A0A"/>
<circle cx="80.78" cy="527.7" r="1.55" fill="#FF0A0A"/>
<circle cx="80.78" cy="550.5" r="1.5" fill="#0A6A0A"/>
<circle cx="86.37" cy="527.7" r="1.55" fill="#FF0A0A"/>
<circle cx="86.37" cy="550.5" r="1.5" fill="#0A6A0A"/>
<circle cx="91.96" cy="527.7" r="1.55" fill="#FF0A0A"/>
<circle cx="91.96" cy="550.5" r="1.5" fill="#0A6A0A"/>
<circle cx="97.55" cy="527.7" r="1.55" fill="#FF0A0A"/>
<circle cx="97.55" cy="550.5" r="1.5" fill="#0A6A0A"/>
<circle cx="103.14" cy="527.7" r="1" fill="#0A6A0A"/>
<circle cx="103.14" cy="550.5" r="2.35" fill="#FF0A0A"/>
<circle cx="108.73" cy="527.7" r="1.55" fill="#FF0A0A"/>
<circle cx="108.73" cy="550.5" r="1.5" fill="#0A6A0A"/>
<circle cx="114.32" cy="527.7" r="1.55" fill="#FF0A0A"/>
<circle cx="114.32" cy="550.5" r="1.5" fill="#0A6A0A"/>
<circle cx="119.91" cy="527.7" r="1.55" fill="#FF0A0A"/>
<circle cx="119.91" cy="550.5" r="1.5" fill="#0A6A0A"/>
<circle cx="125.5" cy="527.7" r="1.55" fill="#FF0A0A"/>
<circle cx="125.5" cy="550.5" r="1.5" fill="#0A6A0A"/>
<circle cx="131.09" cy="527.7" r="1.55" fill="#FF0A0A"/>
<circle cx="131.09" cy="550.5" r="1.5" fill="#0A6A0A"/>
<circle cx="136.68" cy="527.7" r="1.55" fill="#FF0A0A"/>
<circle cx="136.68" cy="550.5" r="1.5" fill="#0A6A0A"/>
<circle cx="142.27" cy="527.7" r="1.55" fill="#FF0A0A"/>
<circle cx="142.27" cy="550.5" r="1.5" fill="#0A6A0A"/>
<circle cx="147.86" cy="527.7" r="1.55" fill="#FF0A0A"/>
<circle cx="147.86" cy="550.5" r="1.5" fill="#0A6A0A"/>
<circle cx="153.45" cy="527.7" r="1.55" fill="#FF0A0A"/>
<circle cx="153.45" cy="550.5" r="1.5" fill="#0A6A0A"/>
<circle cx="159.04" cy="527.7" r="1.5" fill="#0A6A0A"/>
<circle cx="159.04" cy="550.5" r="1.9" fill="#FF0A0A"/>
<circle cx="164.63" cy="527.7" r="1.55" fill="#FF0A0A"/>
<circle cx="164.63" cy="550.5" r="1.5" fill="#0A6A0A"/>
<circle cx="170.22" cy="527.7" r="1.55" fill="#FF0A0A"/>
<circle cx="170.22" cy="550.5" r="1.5" fill="#0A6A0A"/>
<circle cx="175.81" cy="527.7" r="1.55" fill="#FF0A0A"/>
<circle cx="175.81" cy="550.5" r="1.5" fill="#0A6A0A"/>
<circle cx="181.4" cy="527.7" r="1.55" fill="#FF0A0A"/>
<circle cx="181.4" cy="550.5" r="1.5" fill="#0A6A0A"/>
<circle cx="186.99" cy="527.7" r="1.55" fill="#FF0A0A"/>
<circle cx="186.99" cy="550.5" r="1.5" fill="#0A6A0A"/>
<circle cx="192.58" cy="527.7" r="1.55" fill="#FF0A0A"/>
<circle cx="192.58" cy="550.5" r="1.5" fill="#0A6A0A"/>
<circle cx="198.17" cy="527.7" r="1.55" fill="#FF0A0A"/>
<circle cx="198.17" cy="550.5" r="1.5" fill="#0A6A0A"/>
<circle cx="203.76" cy="527.7" r="1.55" fill="#FF0A0A"/>
<circle cx="203.76" cy="550.5" r="1.5" fill="#0A6A0A"/>
<circle cx="209.35" cy="527.7" r="1.55" fill="#FF0A0A"/>
<circle cx="209.35" cy="550.5" r="1.5" fill="#FF0A0A"/>
<circle cx="214.94" cy="527.7" r="1.55" fill="#FF0A0A"/>
<circle cx="214.94" cy="550.5" r="1.5" fill="#0A6A0A"/>
<circle cx="220.53" cy="550.5" r="3" fill="#FF0A0A"/>
<circle cx="226.12" cy="527.7" r="1.55" fill="#FF0A0A"/>
<circle cx="226.12" cy="550.5" r="1.5" fill="#0A6A0A"/>
<circle cx="231.71" cy="527.7" r="1.55" fill="#FF0A0A"/>
<circle cx="231.71" cy="550.5" r="1.5" fill="#0A6A0A"/>
<circle cx="237.3" cy="527.7" r="1.55" fill="#FF0A0A"/>
<circle cx="237.3" cy="550.5" r="1.5" fill="#0A6A0A"/>
<circle cx="242.89" cy="527.7" r="1.55" fill="#FF0A0A"/>
<circle cx="242.89" cy="550.5" r="1.5" fill="#0A6A0A"/>
<circle cx="248.48" cy="527.7" r="1.55" fill="#FF0A0A"/>
<circle cx="248.48" cy="550.5" r="0.6" fill="#0A6A0A"/>
<circle cx="254.07" cy="527.7" r="1.55" fill="#FF0A0A"/>
<circle cx="254.07" cy="550.5" r="1.5" fill="#0A6A0A"/>
<circle cx="259.66" cy="527.7" r="1.55" fill="#FF0A0A"/>
<circle cx="259.66" cy="550.5" r="1.5" fill="#0A6A0A"/>
<circle cx="265.25" cy="527.7" r="1.55" fill="#FF0A0A"/>
<circle cx="265.25" cy="550.5" r="1.5" fill="#0A6A0A"/>
<circle cx="270.84" cy="527.7" r="1.55" fill="#FF0A0A"/>
<circle cx="270.84" cy="550.5" r="1.5" fill="#FF0A0A"/>
<circle cx="276.43" cy="527.7" r="1.55" fill="#FF0A0A"/>
<circle cx="276.43" cy="550.5" r="1.5" fill="#0A6A0A"/>
<circle cx="282.02" cy="527.7" r="1.55" fill="#FF0A0A"/>
<circle cx="282.02" cy="550.5" r="1.5" fill="#0A6A0A"/>
<circle cx="287.61" cy="527.7" r="1.55" fill="#FF0A0A"/>
<circle cx="287.61" cy="550.5" r="1.5" fill="#0A6A0A"/>
<circle cx="293.2" cy="527.7" r="1.55" fill="#FF0A0A"/>
<circle cx="293.2" cy="550.5" r="1.5" fill="#0A6A0A"/>
<circle cx="298.79" cy="527.7" r="1.55" fill="#FF0A0A"/>
<circle cx="298.79" cy="550.5" r="1.5" fill="#0A6A0A"/>
<circle cx="304.38" cy="527.7" r="1.5" fill="#0A6A0A"/>
<circle cx="304.38" cy="550.5" r="1.7" fill="#FF0A0A"/>
<circle cx="309.97" cy="550.5" r="2.8" fill="#FF0A0A"/>
<circle cx="315.56" cy="527.7" r="1.55" fill="#FF0A0A"/>
<circle cx="315.56" cy="550.5" r="1.5" fill="#0A6A0A"/>
<circle cx="321.15" cy="527.7" r="1.55" fill="#FF0A0A"/>
<circle cx="321.15" cy="550.5" r="1.5" fill="#0A6A0A"/>
<circle cx="326.74" cy="527.7" r="1.55" fill="#FF0A0A"/>
<circle cx="326.74" cy="550.5" r="1.5" fill="#0A6A0A"/>
<circle cx="332.33" cy="527.7" r="1.55" fill="#FF0A0A"/>
<circle cx="332.33" cy="550.5" r="1.5" fill="#0A6A0A"/>
<circle cx="337.92" cy="527.7" r="1.55" fill="#FF0A0A"/>
<circle cx="337.92" cy="550.5" r="1.5" fill="#0A6A0A"/>
<circle cx="343.51" cy="527.7" r="1.55" fill="#FF0A0A"/>
<circle cx="343.51" cy="550.5" r="1.5" fill="#0A6A0A"/>
<circle cx="349.1" cy="527.7" r="1.55" fill="#FF0A0A"/>
<circle cx="349.1" cy="550.5" r="1.5" fill="#0A6A0A"/>
<circle cx="354.69" cy="527.7" r="1.55" fill="#FF0A0A"/>
<circle cx="354.69" cy="550.5" r="1.5" fill="#0A6A0A"/>
<circle cx="360.28" cy="527.7" r="1.55" fill="#FF0A0A"/>
<circle cx="360.28" cy="550.5" r="0.3" fill="#0A6A0A"/>
<circle cx="365.87" cy="527.7" r="1.55" fill="#FF0A0A"/>
<circle cx="365.87" cy="550.5" r="1.5" fill="#0A6A0A"/>
<circle cx="371.46" cy="527.7" r="1.55" fill="#0A6A0A"/>
<circle cx="371.46" cy="550.5" r="1.7" fill="#FF0A0A"/>
<circle cx="377.05" cy="527.7" r="1.55" fill="#0A6A0A"/>
<circle cx="377.05" cy="550.5" r="1.95" fill="#FF0A0A"/>
<circle cx="382.64" cy="527.7" r="1.55" fill="#0A6A0A"/>
<circle cx="382.64" cy="550.5" r="1.95" fill="#FF0A0A"/>
<circle cx="388.23" cy="527.7" r="1.55" fill="#0A6A0A"/>
<circle cx="388.23" cy="550.5" r="1.7" fill="#FF0A0A"/>
<circle cx="393.82" cy="527.7" r="1.55" fill="#0A6A0A"/>
<circle cx="393.82" cy="550.5" r="1.95" fill="#FF0A0A"/>
<circle cx="399.41" cy="527.7" r="1.55" fill="#0A6A0A"/>
<circle cx="399.41" cy="550.5" r="1.7" fill="#FF0A0A"/>
<circle cx="405" cy="527.7" r="1.55" fill="#0A6A0A"/>
<circle cx="405" cy="550.5" r="1.7" fill="#FF0A0A"/>
<circle cx="410.59" cy="527.7" r="1.55" fill="#0A6A0A"/>
<circle cx="410.59" cy="550.5" r="1.95" fill="#FF0A0A"/>
<circle cx="416.18" cy="527.7" r="1.55" fill="#0A6A0A"/>
<circle cx="416.18" cy="550.5" r="1.7" fill="#FF0A0A"/>
<circle cx="421.77" cy="527.7" r="1.55" fill="#0A6A0A"/>
<circle cx="421.77" cy="550.5" r="1.7" fill="#FF0A0A"/>
<circle cx="427.36" cy="527.7" r="1.55" fill="#0A6A0A"/>
<circle cx="427.36" cy="550.5" r="1.7" fill="#FF0A0A"/>
<circle cx="432.95" cy="527.7" r="1.55" fill="#0A6A0A"/>
<circle cx="432.95" cy="550.5" r="1.7" fill="#FF0A0A"/>
<circle cx="438.54" cy="527.7" r="1.55" fill="#0A6A0A"/>
<circle cx="438.54" cy="550.5" r="1.7" fill="#FF0A0A"/>
<circle cx="444.13" cy="527.7" r="1.55" fill="#0A6A0A"/>
<circle cx="444.13" cy="550.5" r="1.7" fill="#FF0A0A"/>
<circle cx="449.72" cy="527.7" r="1.55" fill="#0A6A0A"/>
<circle cx="449.72" cy="550.5" r="1.7" fill="#FF0A0A"/>
<circle cx="455.31" cy="527.7" r="1.55" fill="#0A6A0A"/>
<circle cx="455.31" cy="550.5" r="1.4" fill="#FF0A0A"/>
<circle cx="460.9" cy="527.7" r="1.55" fill="#FF0A0A"/>
<circle cx="460.9" cy="550.5" r="1" fill="#0A6A0A"/>
<rect x="10.4" y="514.4" width="454.7" height="49.2" fill="none" stroke="#2b2b2b" stroke-width="0.9"/>
<line x1="9.1" y1="527.7" x2="10.4" y2="527.7" stroke="#333" stroke-width="0.4"/>
<text x="8.7" y="529.05" font-size="3.8" text-anchor="end" fill="#454545">CRC</text>
<line x1="9.1" y1="550.5" x2="10.4" y2="550.5" stroke="#333" stroke-width="0.4"/>
<text x="8.7" y="551.85" font-size="3.8" text-anchor="end" fill="#454545">GC</text>
<g font-size="3.5" fill="#3a3a3a" text-anchor="end">
<text transform="translate(15.3 567.2) rotate(-45)">TRAV1−2*00</text>
<text transform="translate(20.89 567.2) rotate(-45)">TRAV12−1*00</text>
<text transform="translate(26.48 567.2) rotate(-45)">TRAV12−3*00</text>
<text transform="translate(32.07 567.2) rotate(-45)">TRAV13−1*00</text>
<text transform="translate(37.66 567.2) rotate(-45)">TRAV13−2*00</text>
<text transform="translate(43.25 567.2) rotate(-45)">TRAV14DV4*00</text>
<text transform="translate(48.84 567.2) rotate(-45)">TRAV23DV6*00</text>
<text transform="translate(54.43 567.2) rotate(-45)">TRAV26−1*00</text>
<text transform="translate(60.02 567.2) rotate(-45)">TRAV30*00</text>
<text transform="translate(65.61 567.2) rotate(-45)">TRAV35*00</text>
<text transform="translate(71.2 567.2) rotate(-45)">TRAV36DV7*00</text>
<text transform="translate(76.79 567.2) rotate(-45)">TRAV38−1*00</text>
<text transform="translate(82.38 567.2) rotate(-45)">TRAV41*00</text>
<text transform="translate(87.97 567.2) rotate(-45)">TRBV10−1*00</text>
<text transform="translate(93.56 567.2) rotate(-45)">TRBV10−2*00</text>
<text transform="translate(99.15 567.2) rotate(-45)">TRBV10−3*00</text>
<text transform="translate(104.74 567.2) rotate(-45)">TRBV11−1*00</text>
<text transform="translate(110.33 567.2) rotate(-45)">TRBV11−2*00</text>
<text transform="translate(115.92 567.2) rotate(-45)">TRBV11−3*00</text>
<text transform="translate(121.51 567.2) rotate(-45)">TRBV12−1*00</text>
<text transform="translate(127.1 567.2) rotate(-45)">TRBV12−3*00</text>
<text transform="translate(132.69 567.2) rotate(-45)">TRBV12−4*00</text>
<text transform="translate(138.28 567.2) rotate(-45)">TRBV12−5*00</text>
<text transform="translate(143.87 567.2) rotate(-45)">TRBV13*00</text>
<text transform="translate(149.46 567.2) rotate(-45)">TRBV14*00</text>
<text transform="translate(155.05 567.2) rotate(-45)">TRBV15*00</text>
<text transform="translate(160.64 567.2) rotate(-45)">TRBV16*00</text>
<text transform="translate(166.23 567.2) rotate(-45)">TRBV18*00</text>
<text transform="translate(171.82 567.2) rotate(-45)">TRBV19*00</text>
<text transform="translate(177.41 567.2) rotate(-45)">TRBV2*00</text>
<text transform="translate(183 567.2) rotate(-45)">TRBV20−1*00</text>
<text transform="translate(188.59 567.2) rotate(-45)">TRBV21−1*00</text>
<text transform="translate(194.18 567.2) rotate(-45)">TRBV23−1*00</text>
<text transform="translate(199.77 567.2) rotate(-45)">TRBV24−1*00</text>
<text transform="translate(205.36 567.2) rotate(-45)">TRBV25−1*00</text>
<text transform="translate(210.95 567.2) rotate(-45)">TRBV27*00</text>
<text transform="translate(216.54 567.2) rotate(-45)">TRBV28*00</text>
<text transform="translate(222.13 567.2) rotate(-45)">TRBV29−1*00</text>
<text transform="translate(227.72 567.2) rotate(-45)">TRBV3−1*00</text>
<text transform="translate(233.31 567.2) rotate(-45)">TRBV30*00</text>
<text transform="translate(238.9 567.2) rotate(-45)">TRBV4−1*00</text>
<text transform="translate(244.49 567.2) rotate(-45)">TRBV4−2*00</text>
<text transform="translate(250.08 567.2) rotate(-45)">TRBV4−3*00</text>
<text transform="translate(255.67 567.2) rotate(-45)">TRBV5−1*00</text>
<text transform="translate(261.26 567.2) rotate(-45)">TRBV5−4*00</text>
<text transform="translate(266.85 567.2) rotate(-45)">TRBV5−5*00</text>
<text transform="translate(272.44 567.2) rotate(-45)">TRBV5−6*00</text>
<text transform="translate(278.03 567.2) rotate(-45)">TRBV5−8*00</text>
<text transform="translate(283.62 567.2) rotate(-45)">TRBV6−1*00</text>
<text transform="translate(289.21 567.2) rotate(-45)">TRBV6−2*00</text>
<text transform="translate(294.8 567.2) rotate(-45)">TRBV6−3*00</text>
<text transform="translate(300.39 567.2) rotate(-45)">TRBV6−4*00</text>
<text transform="translate(305.98 567.2) rotate(-45)">TRBV6−5*00</text>
<text transform="translate(311.57 567.2) rotate(-45)">TRBV6−6*00</text>
<text transform="translate(317.16 567.2) rotate(-45)">TRBV6−7*00</text>
<text transform="translate(322.75 567.2) rotate(-45)">TRBV6−9*00</text>
<text transform="translate(328.34 567.2) rotate(-45)">TRBV7−2*00</text>
<text transform="translate(333.93 567.2) rotate(-45)">TRBV7−3*00</text>
<text transform="translate(339.52 567.2) rotate(-45)">TRBV7−4*00</text>
<text transform="translate(345.11 567.2) rotate(-45)">TRBV7−5*00</text>
<text transform="translate(350.7 567.2) rotate(-45)">TRBV7−6*00</text>
<text transform="translate(356.29 567.2) rotate(-45)">TRBV7−7*00</text>
<text transform="translate(361.88 567.2) rotate(-45)">TRBV7−8*00</text>
<text transform="translate(367.47 567.2) rotate(-45)">TRBV7−9*00</text>
<text transform="translate(373.06 567.2) rotate(-45)">TRBV7−9*00</text>
<text transform="translate(378.65 567.2) rotate(-45)">TRBV9*00</text>
<text transform="translate(384.24 567.2) rotate(-45)">TRDV1*00</text>
<text transform="translate(389.83 567.2) rotate(-45)">TRDV2*00</text>
<text transform="translate(395.42 567.2) rotate(-45)">TRDV3*00</text>
<text transform="translate(401.01 567.2) rotate(-45)">TRGV10*00</text>
<text transform="translate(406.6 567.2) rotate(-45)">TRGV11*00</text>
<text transform="translate(412.19 567.2) rotate(-45)">TRGV2*00</text>
<text transform="translate(417.78 567.2) rotate(-45)">TRGV3*00</text>
<text transform="translate(423.37 567.2) rotate(-45)">TRGV4*00</text>
<text transform="translate(428.96 567.2) rotate(-45)">TRGV5*00</text>
<text transform="translate(434.55 567.2) rotate(-45)">TRGV5P*00</text>
<text transform="translate(440.14 567.2) rotate(-45)">TRGV7*00</text>
<text transform="translate(445.73 567.2) rotate(-45)">TRGV8*00</text>
<text transform="translate(451.32 567.2) rotate(-45)">TRGV9*00</text>
<text transform="translate(456.91 567.2) rotate(-45)">TRGVA*00</text>
<text transform="translate(462.5 567.2) rotate(-45)">TRGVB*00</text>
</g>
<g stroke="#333" stroke-width="0.5">
<line x1="13.7" y1="563.6" x2="13.7" y2="564.9"/>
<line x1="19.29" y1="563.6" x2="19.29" y2="564.9"/>
<line x1="24.88" y1="563.6" x2="24.88" y2="564.9"/>
<line x1="30.47" y1="563.6" x2="30.47" y2="564.9"/>
<line x1="36.06" y1="563.6" x2="36.06" y2="564.9"/>
<line x1="41.65" y1="563.6" x2="41.65" y2="564.9"/>
<line x1="47.24" y1="563.6" x2="47.24" y2="564.9"/>
<line x1="52.83" y1="563.6" x2="52.83" y2="564.9"/>
<line x1="58.42" y1="563.6" x2="58.42" y2="564.9"/>
<line x1="64.01" y1="563.6" x2="64.01" y2="564.9"/>
<line x1="69.6" y1="563.6" x2="69.6" y2="564.9"/>
<line x1="75.19" y1="563.6" x2="75.19" y2="564.9"/>
<line x1="80.78" y1="563.6" x2="80.78" y2="564.9"/>
<line x1="86.37" y1="563.6" x2="86.37" y2="564.9"/>
<line x1="91.96" y1="563.6" x2="91.96" y2="564.9"/>
<line x1="97.55" y1="563.6" x2="97.55" y2="564.9"/>
<line x1="103.14" y1="563.6" x2="103.14" y2="564.9"/>
<line x1="108.73" y1="563.6" x2="108.73" y2="564.9"/>
<line x1="114.32" y1="563.6" x2="114.32" y2="564.9"/>
<line x1="119.91" y1="563.6" x2="119.91" y2="564.9"/>
<line x1="125.5" y1="563.6" x2="125.5" y2="564.9"/>
<line x1="131.09" y1="563.6" x2="131.09" y2="564.9"/>
<line x1="136.68" y1="563.6" x2="136.68" y2="564.9"/>
<line x1="142.27" y1="563.6" x2="142.27" y2="564.9"/>
<line x1="147.86" y1="563.6" x2="147.86" y2="564.9"/>
<line x1="153.45" y1="563.6" x2="153.45" y2="564.9"/>
<line x1="159.04" y1="563.6" x2="159.04" y2="564.9"/>
<line x1="164.63" y1="563.6" x2="164.63" y2="564.9"/>
<line x1="170.22" y1="563.6" x2="170.22" y2="564.9"/>
<line x1="175.81" y1="563.6" x2="175.81" y2="564.9"/>
<line x1="181.4" y1="563.6" x2="181.4" y2="564.9"/>
<line x1="186.99" y1="563.6" x2="186.99" y2="564.9"/>
<line x1="192.58" y1="563.6" x2="192.58" y2="564.9"/>
<line x1="198.17" y1="563.6" x2="198.17" y2="564.9"/>
<line x1="203.76" y1="563.6" x2="203.76" y2="564.9"/>
<line x1="209.35" y1="563.6" x2="209.35" y2="564.9"/>
<line x1="214.94" y1="563.6" x2="214.94" y2="564.9"/>
<line x1="220.53" y1="563.6" x2="220.53" y2="564.9"/>
<line x1="226.12" y1="563.6" x2="226.12" y2="564.9"/>
<line x1="231.71" y1="563.6" x2="231.71" y2="564.9"/>
<line x1="237.3" y1="563.6" x2="237.3" y2="564.9"/>
<line x1="242.89" y1="563.6" x2="242.89" y2="564.9"/>
<line x1="248.48" y1="563.6" x2="248.48" y2="564.9"/>
<line x1="254.07" y1="563.6" x2="254.07" y2="564.9"/>
<line x1="259.66" y1="563.6" x2="259.66" y2="564.9"/>
<line x1="265.25" y1="563.6" x2="265.25" y2="564.9"/>
<line x1="270.84" y1="563.6" x2="270.84" y2="564.9"/>
<line x1="276.43" y1="563.6" x2="276.43" y2="564.9"/>
<line x1="282.02" y1="563.6" x2="282.02" y2="564.9"/>
<line x1="287.61" y1="563.6" x2="287.61" y2="564.9"/>
<line x1="293.2" y1="563.6" x2="293.2" y2="564.9"/>
<line x1="298.79" y1="563.6" x2="298.79" y2="564.9"/>
<line x1="304.38" y1="563.6" x2="304.38" y2="564.9"/>
<line x1="309.97" y1="563.6" x2="309.97" y2="564.9"/>
<line x1="315.56" y1="563.6" x2="315.56" y2="564.9"/>
<line x1="321.15" y1="563.6" x2="321.15" y2="564.9"/>
<line x1="326.74" y1="563.6" x2="326.74" y2="564.9"/>
<line x1="332.33" y1="563.6" x2="332.33" y2="564.9"/>
<line x1="337.92" y1="563.6" x2="337.92" y2="564.9"/>
<line x1="343.51" y1="563.6" x2="343.51" y2="564.9"/>
<line x1="349.1" y1="563.6" x2="349.1" y2="564.9"/>
<line x1="354.69" y1="563.6" x2="354.69" y2="564.9"/>
<line x1="360.28" y1="563.6" x2="360.28" y2="564.9"/>
<line x1="365.87" y1="563.6" x2="365.87" y2="564.9"/>
<line x1="371.46" y1="563.6" x2="371.46" y2="564.9"/>
<line x1="377.05" y1="563.6" x2="377.05" y2="564.9"/>
<line x1="382.64" y1="563.6" x2="382.64" y2="564.9"/>
<line x1="388.23" y1="563.6" x2="388.23" y2="564.9"/>
<line x1="393.82" y1="563.6" x2="393.82" y2="564.9"/>
<line x1="399.41" y1="563.6" x2="399.41" y2="564.9"/>
<line x1="405" y1="563.6" x2="405" y2="564.9"/>
<line x1="410.59" y1="563.6" x2="410.59" y2="564.9"/>
<line x1="416.18" y1="563.6" x2="416.18" y2="564.9"/>
<line x1="421.77" y1="563.6" x2="421.77" y2="564.9"/>
<line x1="427.36" y1="563.6" x2="427.36" y2="564.9"/>
<line x1="432.95" y1="563.6" x2="432.95" y2="564.9"/>
<line x1="438.54" y1="563.6" x2="438.54" y2="564.9"/>
<line x1="444.13" y1="563.6" x2="444.13" y2="564.9"/>
<line x1="449.72" y1="563.6" x2="449.72" y2="564.9"/>
<line x1="455.31" y1="563.6" x2="455.31" y2="564.9"/>
<line x1="460.9" y1="563.6" x2="460.9" y2="564.9"/>
</g>
<text x="12.4" y="508.6" font-size="4.3"><tspan font-style="italic">R</tspan>(o/e)</text>
<text x="30.9" y="508.6" font-size="4.2">0.0</text>
<text x="47.7" y="508.6" font-size="4.2">2.5</text>
<text x="63.8" y="508.6" font-size="4.2">5.0</text>
<text x="81.6" y="508.6" font-size="4.2">7.5</text>
<text x="100.7" y="508.6" font-size="4.2">10.0</text>
<text x="125" y="508.6" font-size="4.2">12.5</text>
<circle cx="42.6" cy="507.1" r="1.6" fill="#000"/>
<circle cx="58.4" cy="507.1" r="2.4" fill="#000"/>
<circle cx="76.2" cy="507.1" r="3.2" fill="#000"/>
<circle cx="94.4" cy="507.1" r="3.95" fill="#000"/>
<circle cx="116.5" cy="507.1" r="4.55" fill="#000"/>
<text x="144.4" y="508.6" font-size="4.5">Status</text>
<circle cx="161.2" cy="507.1" r="1.9" fill="#0A6A0A"/>
<text x="165.9" y="508.6" font-size="4.5">Depletion</text>
<circle cx="189" cy="507.1" r="1.9" fill="#FF0A0A"/>
<text x="194" y="508.6" font-size="4.5">Enrichment</text>
<text x="251.6" y="498" font-size="6.95" text-anchor="middle" font-weight="bold">Differences of TRV* genes among cancer types</text>
<rect x="481.1" y="513.7" width="198.4" height="51.3" fill="#fff"/>
<g stroke="#DDDDDD" stroke-width="0.3" stroke-dasharray="0.7 1.1">
<line x1="485.55" y1="513.7" x2="485.55" y2="565"/>
<line x1="494.24" y1="513.7" x2="494.24" y2="565"/>
<line x1="502.92" y1="513.7" x2="502.92" y2="565"/>
<line x1="511.61" y1="513.7" x2="511.61" y2="565"/>
<line x1="520.29" y1="513.7" x2="520.29" y2="565"/>
<line x1="528.98" y1="513.7" x2="528.98" y2="565"/>
<line x1="537.67" y1="513.7" x2="537.67" y2="565"/>
<line x1="546.35" y1="513.7" x2="546.35" y2="565"/>
<line x1="555.04" y1="513.7" x2="555.04" y2="565"/>
<line x1="563.72" y1="513.7" x2="563.72" y2="565"/>
<line x1="572.41" y1="513.7" x2="572.41" y2="565"/>
<line x1="581.1" y1="513.7" x2="581.1" y2="565"/>
<line x1="589.78" y1="513.7" x2="589.78" y2="565"/>
<line x1="598.47" y1="513.7" x2="598.47" y2="565"/>
<line x1="607.15" y1="513.7" x2="607.15" y2="565"/>
<line x1="615.84" y1="513.7" x2="615.84" y2="565"/>
<line x1="624.53" y1="513.7" x2="624.53" y2="565"/>
<line x1="633.21" y1="513.7" x2="633.21" y2="565"/>
<line x1="641.9" y1="513.7" x2="641.9" y2="565"/>
<line x1="650.58" y1="513.7" x2="650.58" y2="565"/>
<line x1="659.27" y1="513.7" x2="659.27" y2="565"/>
<line x1="667.96" y1="513.7" x2="667.96" y2="565"/>
<line x1="676.64" y1="513.7" x2="676.64" y2="565"/>
<line x1="481.1" y1="527.4" x2="679.5" y2="527.4"/>
<line x1="481.1" y1="551.5" x2="679.5" y2="551.5"/>
</g>
<circle cx="485.55" cy="527.4" r="2.2" fill="#FF0A0A"/>
<circle cx="485.55" cy="551.5" r="2" fill="#0A6A0A"/>
<circle cx="494.24" cy="527.4" r="2.2" fill="#FF0A0A"/>
<circle cx="494.24" cy="551.5" r="2" fill="#0A6A0A"/>
<circle cx="502.92" cy="527.4" r="2.2" fill="#FF0A0A"/>
<circle cx="502.92" cy="551.5" r="2" fill="#0A6A0A"/>
<circle cx="511.61" cy="527.4" r="2.2" fill="#FF0A0A"/>
<circle cx="511.61" cy="551.5" r="2" fill="#0A6A0A"/>
<circle cx="520.29" cy="527.4" r="2.2" fill="#FF0A0A"/>
<circle cx="520.29" cy="551.5" r="2" fill="#0A6A0A"/>
<circle cx="528.98" cy="527.4" r="2.2" fill="#FF0A0A"/>
<circle cx="528.98" cy="551.5" r="2" fill="#0A6A0A"/>
<circle cx="537.67" cy="527.4" r="2.2" fill="#FF0A0A"/>
<circle cx="537.67" cy="551.5" r="2" fill="#0A6A0A"/>
<circle cx="546.35" cy="527.4" r="2.2" fill="#FF0A0A"/>
<circle cx="546.35" cy="551.5" r="2" fill="#0A6A0A"/>
<circle cx="555.04" cy="527.4" r="2.05" fill="#0A6A0A"/>
<circle cx="555.04" cy="551.5" r="2.6" fill="#FF0A0A"/>
<circle cx="563.72" cy="527.4" r="2.2" fill="#FF0A0A"/>
<circle cx="563.72" cy="551.5" r="2" fill="#0A6A0A"/>
<circle cx="572.41" cy="527.4" r="2.2" fill="#FF0A0A"/>
<circle cx="572.41" cy="551.5" r="1.75" fill="#0A6A0A"/>
<circle cx="581.1" cy="527.4" r="2.2" fill="#FF0A0A"/>
<circle cx="581.1" cy="551.5" r="2" fill="#0A6A0A"/>
<circle cx="589.78" cy="527.4" r="2.2" fill="#FF0A0A"/>
<circle cx="589.78" cy="551.5" r="2" fill="#0A6A0A"/>
<circle cx="598.47" cy="527.4" r="2.2" fill="#FF0A0A"/>
<circle cx="598.47" cy="551.5" r="2" fill="#0A6A0A"/>
<circle cx="607.15" cy="527.4" r="2.05" fill="#0A6A0A"/>
<circle cx="607.15" cy="551.5" r="2.25" fill="#FF0A0A"/>
<circle cx="615.84" cy="527.4" r="2.05" fill="#0A6A0A"/>
<circle cx="615.84" cy="551.5" r="2.25" fill="#FF0A0A"/>
<circle cx="624.53" cy="527.4" r="2.05" fill="#0A6A0A"/>
<circle cx="624.53" cy="551.5" r="2.25" fill="#FF0A0A"/>
<circle cx="633.21" cy="527.4" r="2.05" fill="#0A6A0A"/>
<circle cx="633.21" cy="551.5" r="2.25" fill="#FF0A0A"/>
<circle cx="641.9" cy="527.4" r="2.05" fill="#0A6A0A"/>
<circle cx="641.9" cy="551.5" r="2.25" fill="#FF0A0A"/>
<circle cx="650.58" cy="527.4" r="2.05" fill="#0A6A0A"/>
<circle cx="650.58" cy="551.5" r="2.25" fill="#FF0A0A"/>
<circle cx="659.27" cy="527.4" r="2.05" fill="#0A6A0A"/>
<circle cx="659.27" cy="551.5" r="2.25" fill="#FF0A0A"/>
<circle cx="667.96" cy="527.4" r="2.05" fill="#0A6A0A"/>
<circle cx="667.96" cy="551.5" r="2.25" fill="#FF0A0A"/>
<circle cx="676.64" cy="527.4" r="2.05" fill="#0A6A0A"/>
<circle cx="676.64" cy="551.5" r="2.25" fill="#FF0A0A"/>
<rect x="481.1" y="513.7" width="198.4" height="51.3" fill="none" stroke="#2b2b2b" stroke-width="0.9"/>
<line x1="479.6" y1="527.4" x2="481.1" y2="527.4" stroke="#333" stroke-width="0.45"/>
<text x="478.7" y="528.9" font-size="4.3" text-anchor="end" fill="#454545">CRC</text>
<line x1="479.6" y1="551.5" x2="481.1" y2="551.5" stroke="#333" stroke-width="0.45"/>
<text x="478.7" y="553" font-size="4.3" text-anchor="end" fill="#454545">GC</text>
<g font-size="4.4" fill="#454545" text-anchor="end">
<text transform="translate(487.55 569.4) rotate(-45)">TRBJ1−1*00</text>
<text transform="translate(496.24 569.4) rotate(-45)">TRBJ1−2*00</text>
<text transform="translate(504.92 569.4) rotate(-45)">TRBJ1−3*00</text>
<text transform="translate(513.61 569.4) rotate(-45)">TRBJ1−4*00</text>
<text transform="translate(522.29 569.4) rotate(-45)">TRBJ1−5*00</text>
<text transform="translate(530.98 569.4) rotate(-45)">TRBJ1−6*00</text>
<text transform="translate(539.67 569.4) rotate(-45)">TRBJ2−1*00</text>
<text transform="translate(548.35 569.4) rotate(-45)">TRBJ2−2*00</text>
<text transform="translate(557.04 569.4) rotate(-45)">TRBJ2−2P*00</text>
<text transform="translate(565.72 569.4) rotate(-45)">TRBJ2−3*00</text>
<text transform="translate(574.41 569.4) rotate(-45)">TRBJ2−4*00</text>
<text transform="translate(583.1 569.4) rotate(-45)">TRBJ2−5*00</text>
<text transform="translate(591.78 569.4) rotate(-45)">TRBJ2−6*00</text>
<text transform="translate(600.47 569.4) rotate(-45)">TRBJ2−7*00</text>
<text transform="translate(609.15 569.4) rotate(-45)">TRDJ1*00</text>
<text transform="translate(617.84 569.4) rotate(-45)">TRDJ2*00</text>
<text transform="translate(626.53 569.4) rotate(-45)">TRDJ3*00</text>
<text transform="translate(635.21 569.4) rotate(-45)">TRDJ4*00</text>
<text transform="translate(643.9 569.4) rotate(-45)">TRGJ1*00</text>
<text transform="translate(652.58 569.4) rotate(-45)">TRGJ2*00</text>
<text transform="translate(661.27 569.4) rotate(-45)">TRGJP*00</text>
<text transform="translate(669.96 569.4) rotate(-45)">TRGJP1*00</text>
<text transform="translate(678.64 569.4) rotate(-45)">TRGJP2*00</text>
</g>
<g stroke="#333" stroke-width="0.4">
<line x1="485.55" y1="565" x2="485.55" y2="567"/>
<line x1="494.24" y1="565" x2="494.24" y2="567"/>
<line x1="502.92" y1="565" x2="502.92" y2="567"/>
<line x1="511.61" y1="565" x2="511.61" y2="567"/>
<line x1="520.29" y1="565" x2="520.29" y2="567"/>
<line x1="528.98" y1="565" x2="528.98" y2="567"/>
<line x1="537.67" y1="565" x2="537.67" y2="567"/>
<line x1="546.35" y1="565" x2="546.35" y2="567"/>
<line x1="555.04" y1="565" x2="555.04" y2="567"/>
<line x1="563.72" y1="565" x2="563.72" y2="567"/>
<line x1="572.41" y1="565" x2="572.41" y2="567"/>
<line x1="581.1" y1="565" x2="581.1" y2="567"/>
<line x1="589.78" y1="565" x2="589.78" y2="567"/>
<line x1="598.47" y1="565" x2="598.47" y2="567"/>
<line x1="607.15" y1="565" x2="607.15" y2="567"/>
<line x1="615.84" y1="565" x2="615.84" y2="567"/>
<line x1="624.53" y1="565" x2="624.53" y2="567"/>
<line x1="633.21" y1="565" x2="633.21" y2="567"/>
<line x1="641.9" y1="565" x2="641.9" y2="567"/>
<line x1="650.58" y1="565" x2="650.58" y2="567"/>
<line x1="659.27" y1="565" x2="659.27" y2="567"/>
<line x1="667.96" y1="565" x2="667.96" y2="567"/>
<line x1="676.64" y1="565" x2="676.64" y2="567"/>
</g>
<text x="481" y="509.9" font-size="5.2"><tspan font-style="italic">R</tspan>(o/e)</text>
<text x="506.6" y="509.6" font-size="4.2">0</text>
<text x="521.7" y="509.6" font-size="4.2">1</text>
<text x="536.2" y="509.6" font-size="4.2">2</text>
<text x="550.6" y="509.6" font-size="4.2">3</text>
<circle cx="501.2" cy="508.1" r="0.7" fill="#000"/>
<circle cx="515.9" cy="508.1" r="1.9" fill="#000"/>
<circle cx="530.3" cy="508.1" r="2.55" fill="#000"/>
<circle cx="544.6" cy="508.1" r="3.05" fill="#000"/>
<text x="562" y="509.9" font-size="5.3">Status</text>
<circle cx="582.9" cy="508.1" r="2.2" fill="#0A6A0A"/>
<text x="590.2" y="509.5" font-size="3.85">Depletion</text>
<circle cx="613.4" cy="508.1" r="2.2" fill="#FF0A0A"/>
<text x="620.4" y="509.5" font-size="3.85">Enrichment</text>
<text x="579.3" y="498.1" font-size="6.95" text-anchor="middle" font-weight="bold">Differences of TRJ* genes among cancer types</text>
<text x="0.7" y="600.9" font-size="13.4">D</text>
<line x1="34.16" y1="684.47" x2="165.53" y2="684.47" stroke="#C8C8C8" stroke-width="0.4"/>
<path d="M34.16 684.34C34.59 684.21 35.91 684.25 36.78 683.55C37.66 682.85 38.54 682.02 39.41 680.14C40.29 678.25 41.16 675.76 42.04 672.25C42.91 668.75 43.79 663.28 44.67 659.12C45.54 654.96 46.42 650.67 47.29 647.29C48.17 643.92 49.05 641.16 49.92 638.89C50.8 636.61 51.76 635.38 52.55 633.63C53.34 631.88 53.99 630.7 54.65 628.38C55.31 626.06 55.88 622.46 56.49 619.71C57.1 616.95 57.76 613.53 58.33 611.82C58.9 610.12 59.42 609.59 59.91 609.46C60.39 609.33 60.69 609.33 61.22 611.04C61.74 612.74 62.4 616.29 63.06 619.71C63.72 623.12 64.46 628.24 65.16 631.53C65.86 634.81 66.52 637.13 67.26 639.41C68.01 641.69 68.79 643.44 69.63 645.19C70.46 646.94 71.38 648.48 72.25 649.92C73.13 651.37 74.01 652.46 74.88 653.86C75.76 655.26 76.63 656.58 77.51 658.33C78.39 660.08 79.26 662.36 80.14 664.37C81.01 666.39 81.89 668.53 82.76 670.42C83.64 672.3 84.52 674.27 85.39 675.67C86.27 677.07 87.14 677.99 88.02 678.82C88.89 679.65 89.55 680.14 90.65 680.66C91.74 681.19 93.27 681.58 94.59 681.98C95.9 682.37 97.21 682.85 98.53 683.03C99.84 683.2 101.16 683.16 102.47 683.03C103.78 682.9 105.1 682.41 106.41 682.24C107.72 682.06 109.04 681.89 110.35 681.98C111.67 682.06 112.98 682.72 114.29 682.76C115.61 682.81 116.92 682.33 118.23 682.24C119.55 682.15 120.86 682.06 122.18 682.24C123.49 682.41 124.8 683.2 126.12 683.29C127.43 683.38 128.74 683.07 130.06 682.76C131.37 682.46 132.9 681.63 134 681.45C135.09 681.28 135.53 681.45 136.63 681.71C137.72 681.98 139.25 682.72 140.57 683.03C141.88 683.33 143.19 683.38 144.51 683.55C145.82 683.73 147.14 684.03 148.45 684.08C149.76 684.12 151.08 684.03 152.39 683.82C153.7 683.6 155.02 682.76 156.33 682.76C157.65 682.76 158.96 683.55 160.27 683.82C161.59 684.08 163.56 684.25 164.21 684.34" stroke="#FF1A1A" stroke-width="1.15" fill="none" stroke-linejoin="round" stroke-linecap="round"/>
<line x1="102.8" y1="607.4" x2="102.8" y2="687.5" stroke="#0A7A0A" stroke-width="1.25" stroke-dasharray="3.2 2.1"/>
<rect x="28.9" y="606.6" width="142.4" height="80.9" fill="none" stroke="#222" stroke-width="0.7"/>
<line x1="40.2" y1="687.5" x2="167.1" y2="687.5" stroke="#000" stroke-width="0.6"/>
<line x1="40.2" y1="687.5" x2="40.2" y2="691.5" stroke="#222" stroke-width="0.6"/>
<text x="40.2" y="701.6" font-size="6.5" text-anchor="middle">1.0</text>
<line x1="72" y1="687.5" x2="72" y2="691.5" stroke="#222" stroke-width="0.6"/>
<text x="72" y="701.6" font-size="6.5" text-anchor="middle">1.5</text>
<line x1="103.5" y1="687.5" x2="103.5" y2="691.5" stroke="#222" stroke-width="0.6"/>
<text x="103.5" y="701.6" font-size="6.5" text-anchor="middle">2.0</text>
<line x1="135.3" y1="687.5" x2="135.3" y2="691.5" stroke="#222" stroke-width="0.6"/>
<text x="135.3" y="701.6" font-size="6.5" text-anchor="middle">2.5</text>
<line x1="167.1" y1="687.5" x2="167.1" y2="691.5" stroke="#222" stroke-width="0.6"/>
<text x="167.1" y="701.6" font-size="6.5" text-anchor="middle">3.0</text>
<line x1="24.9" y1="684.3" x2="28.9" y2="684.3" stroke="#222" stroke-width="0.6"/>
<text transform="translate(19.8 684.3) rotate(-90)" font-size="6.6" text-anchor="middle">0.0</text>
<line x1="24.9" y1="669.4" x2="28.9" y2="669.4" stroke="#222" stroke-width="0.6"/>
<text transform="translate(19.8 669.4) rotate(-90)" font-size="6.6" text-anchor="middle">0.5</text>
<line x1="24.9" y1="654.4" x2="28.9" y2="654.4" stroke="#222" stroke-width="0.6"/>
<text transform="translate(19.8 654.4) rotate(-90)" font-size="6.6" text-anchor="middle">1.0</text>
<line x1="24.9" y1="639.4" x2="28.9" y2="639.4" stroke="#222" stroke-width="0.6"/>
<text transform="translate(19.8 639.4) rotate(-90)" font-size="6.6" text-anchor="middle">1.5</text>
<line x1="24.9" y1="624.4" x2="28.9" y2="624.4" stroke="#222" stroke-width="0.6"/>
<text transform="translate(19.8 624.4) rotate(-90)" font-size="6.6" text-anchor="middle">2.0</text>
<line x1="24.9" y1="609.5" x2="28.9" y2="609.5" stroke="#222" stroke-width="0.6"/>
<text transform="translate(19.8 609.5) rotate(-90)" font-size="6.6" text-anchor="middle">2.5</text>
<text transform="translate(4.8 647) rotate(-90)" font-size="6.1" text-anchor="middle">Density</text>
<text x="98.5" y="711.7" font-size="6.3" text-anchor="middle">Specificity score</text>
<text x="95.2" y="596.2" font-size="6.45" text-anchor="middle" font-weight="bold">Specificity score of V-J combination</text>
<text x="96.8" y="603.4" font-size="6.45" text-anchor="middle" font-weight="bold">among cancer types</text>
<text x="210.9" y="601.8" font-size="13.4">E</text>
<rect x="233.3" y="610.4" width="450.7" height="35.8" fill="#fff"/>
<g stroke="#CACACA" stroke-width="0.45" stroke-dasharray="0.8 1.3">
<line x1="243.6" y1="610.4" x2="243.6" y2="646.2"/>
<line x1="260.8" y1="610.4" x2="260.8" y2="646.2"/>
<line x1="278" y1="610.4" x2="278" y2="646.2"/>
<line x1="295.2" y1="610.4" x2="295.2" y2="646.2"/>
<line x1="312.4" y1="610.4" x2="312.4" y2="646.2"/>
<line x1="329.6" y1="610.4" x2="329.6" y2="646.2"/>
<line x1="346.8" y1="610.4" x2="346.8" y2="646.2"/>
<line x1="364" y1="610.4" x2="364" y2="646.2"/>
<line x1="381.2" y1="610.4" x2="381.2" y2="646.2"/>
<line x1="398.4" y1="610.4" x2="398.4" y2="646.2"/>
<line x1="415.6" y1="610.4" x2="415.6" y2="646.2"/>
<line x1="432.8" y1="610.4" x2="432.8" y2="646.2"/>
<line x1="450" y1="610.4" x2="450" y2="646.2"/>
<line x1="467.2" y1="610.4" x2="467.2" y2="646.2"/>
<line x1="484.4" y1="610.4" x2="484.4" y2="646.2"/>
<line x1="501.6" y1="610.4" x2="501.6" y2="646.2"/>
<line x1="518.8" y1="610.4" x2="518.8" y2="646.2"/>
<line x1="536" y1="610.4" x2="536" y2="646.2"/>
<line x1="553.2" y1="610.4" x2="553.2" y2="646.2"/>
<line x1="570.4" y1="610.4" x2="570.4" y2="646.2"/>
<line x1="587.6" y1="610.4" x2="587.6" y2="646.2"/>
<line x1="604.8" y1="610.4" x2="604.8" y2="646.2"/>
<line x1="622" y1="610.4" x2="622" y2="646.2"/>
<line x1="639.2" y1="610.4" x2="639.2" y2="646.2"/>
<line x1="656.4" y1="610.4" x2="656.4" y2="646.2"/>
<line x1="673.6" y1="610.4" x2="673.6" y2="646.2"/>
<line x1="233.3" y1="620.4" x2="684" y2="620.4"/>
<line x1="233.3" y1="637.2" x2="684" y2="637.2"/>
</g>
<circle cx="243.6" cy="620.4" r="1.81" fill="#FF0A0A"/>
<circle cx="243.6" cy="637.2" r="1.59" fill="#0A6A0A"/>
<circle cx="260.8" cy="620.4" r="1.59" fill="#0A6A0A"/>
<circle cx="260.8" cy="637.2" r="2.36" fill="#FF0A0A"/>
<circle cx="278" cy="620.4" r="1.81" fill="#FF0A0A"/>
<circle cx="278" cy="637.2" r="1.26" fill="#0A6A0A"/>
<circle cx="295.2" cy="620.4" r="1.81" fill="#FF0A0A"/>
<circle cx="295.2" cy="637.2" r="1.7" fill="#0A6A0A"/>
<circle cx="312.4" cy="620.4" r="1.92" fill="#FF0A0A"/>
<circle cx="312.4" cy="637.2" r="0.71" fill="#0A6A0A"/>
<circle cx="329.6" cy="620.4" r="1.92" fill="#FF0A0A"/>
<circle cx="329.6" cy="637.2" r="1.37" fill="#0A6A0A"/>
<circle cx="346.8" cy="620.4" r="1.81" fill="#FF0A0A"/>
<circle cx="346.8" cy="637.2" r="1.81" fill="#0A6A0A"/>
<circle cx="364" cy="620.4" r="1.81" fill="#FF0A0A"/>
<circle cx="364" cy="637.2" r="1.7" fill="#0A6A0A"/>
<circle cx="381.2" cy="620.4" r="1.92" fill="#FF0A0A"/>
<circle cx="381.2" cy="637.2" r="1.81" fill="#FF0A0A"/>
<circle cx="398.4" cy="620.4" r="1.92" fill="#FF0A0A"/>
<circle cx="398.4" cy="637.2" r="0.6" fill="#0A6A0A"/>
<circle cx="415.6" cy="620.4" r="1.59" fill="#0A6A0A"/>
<circle cx="415.6" cy="637.2" r="2.25" fill="#FF0A0A"/>
<circle cx="432.8" cy="620.4" r="1.81" fill="#FF0A0A"/>
<circle cx="432.8" cy="637.2" r="1.26" fill="#0A6A0A"/>
<circle cx="450" cy="620.4" r="1.59" fill="#0A6A0A"/>
<circle cx="450" cy="637.2" r="1.92" fill="#FF0A0A"/>
<circle cx="467.2" cy="620.4" r="1.26" fill="#0A6A0A"/>
<circle cx="467.2" cy="637.2" r="2.58" fill="#FF0A0A"/>
<circle cx="484.4" cy="620.4" r="1.04" fill="#0A6A0A"/>
<circle cx="484.4" cy="637.2" r="2.36" fill="#FF0A0A"/>
<circle cx="501.6" cy="620.4" r="1.26" fill="#0A6A0A"/>
<circle cx="501.6" cy="637.2" r="2.36" fill="#FF0A0A"/>
<circle cx="518.8" cy="620.4" r="1.7" fill="#FF0A0A"/>
<circle cx="518.8" cy="637.2" r="1.92" fill="#FF0A0A"/>
<circle cx="536" cy="620.4" r="1.7" fill="#FF0A0A"/>
<circle cx="536" cy="637.2" r="1.48" fill="#0A6A0A"/>
<circle cx="553.2" cy="620.4" r="1.48" fill="#0A6A0A"/>
<circle cx="553.2" cy="637.2" r="2.03" fill="#FF0A0A"/>
<circle cx="570.4" cy="620.4" r="1.92" fill="#FF0A0A"/>
<circle cx="570.4" cy="637.2" r="1.48" fill="#0A6A0A"/>
<circle cx="587.6" cy="620.4" r="1.7" fill="#0A6A0A"/>
<circle cx="587.6" cy="637.2" r="2.03" fill="#FF0A0A"/>
<circle cx="604.8" cy="620.4" r="1.48" fill="#0A6A0A"/>
<circle cx="604.8" cy="637.2" r="2.25" fill="#FF0A0A"/>
<circle cx="622" cy="620.4" r="1.37" fill="#FF0A0A"/>
<circle cx="622" cy="637.2" r="1.15" fill="#0A6A0A"/>
<circle cx="639.2" cy="620.4" r="1.7" fill="#FF0A0A"/>
<circle cx="639.2" cy="637.2" r="1.59" fill="#0A6A0A"/>
<circle cx="656.4" cy="620.4" r="1.37" fill="#0A6A0A"/>
<circle cx="656.4" cy="637.2" r="2.58" fill="#FF0A0A"/>
<circle cx="673.6" cy="620.4" r="1.04" fill="#0A6A0A"/>
<circle cx="673.6" cy="637.2" r="2.36" fill="#FF0A0A"/>
<rect x="233.3" y="610.4" width="450.7" height="35.8" fill="none" stroke="#222" stroke-width="1"/>
<line x1="231.5" y1="620.4" x2="233.3" y2="620.4" stroke="#333" stroke-width="0.5"/>
<text x="230.3" y="622.6" font-size="6.1" text-anchor="end" fill="#454545">CRC</text>
<line x1="231.5" y1="637.2" x2="233.3" y2="637.2" stroke="#333" stroke-width="0.5"/>
<text x="230.3" y="639.4" font-size="6.1" text-anchor="end" fill="#454545">GC</text>
<g font-size="6.1" fill="#454545" text-anchor="end">
<text transform="translate(246.2 652.3) rotate(-45)">TRBV10−2*00_TRBJ2−4*00</text>
<text transform="translate(263.4 652.3) rotate(-45)">TRBV12−1*00_TRBJ1−3*00</text>
<text transform="translate(280.6 652.3) rotate(-45)">TRBV12−1*00_TRBJ2−7*00</text>
<text transform="translate(297.8 652.3) rotate(-45)">TRBV12−4*00_TRBJ2−6*00</text>
<text transform="translate(315 652.3) rotate(-45)">TRBV16*00_TRBJ2−1*00</text>
<text transform="translate(332.2 652.3) rotate(-45)">TRBV16*00_TRBJ2−5*00</text>
<text transform="translate(349.4 652.3) rotate(-45)">TRBV4−2*00_TRBJ2−4*00</text>
<text transform="translate(366.6 652.3) rotate(-45)">TRBV5−5*00_TRBJ2−4*00</text>
<text transform="translate(383.8 652.3) rotate(-45)">TRBV5−6*00_TRBJ2−5*00</text>
<text transform="translate(401 652.3) rotate(-45)">TRBV6−4*00_TRBJ1−3*00</text>
<text transform="translate(418.2 652.3) rotate(-45)">TRBV6−4*00_TRBJ2−4*00</text>
<text transform="translate(435.4 652.3) rotate(-45)">TRBV6−7*00_TRBJ2−1*00</text>
<text transform="translate(452.6 652.3) rotate(-45)">TRBV6−9*00_TRBJ1−5*00</text>
<text transform="translate(469.8 652.3) rotate(-45)">TRBV6−9*00_TRBJ2−1*00</text>
<text transform="translate(487 652.3) rotate(-45)">TRBV6−9*00_TRBJ2−5*00</text>
<text transform="translate(504.2 652.3) rotate(-45)">TRBV7−4*00_TRBJ1−6*00</text>
<text transform="translate(521.4 652.3) rotate(-45)">TRBV7−7*00_TRBJ1−4*00</text>
<text transform="translate(538.6 652.3) rotate(-45)">TRBV7−7*00_TRBJ1−6*00</text>
<text transform="translate(555.8 652.3) rotate(-45)">TRDV2*00_TRDJ4*00</text>
<text transform="translate(573 652.3) rotate(-45)">TRGV11*00_TRGJP*00</text>
<text transform="translate(590.2 652.3) rotate(-45)">TRGV5P*00_TRGJ2*00</text>
<text transform="translate(607.4 652.3) rotate(-45)">TRGV5P*00_TRGJP1*00</text>
<text transform="translate(624.6 652.3) rotate(-45)">TRGVA*00_TRGJ1*00</text>
<text transform="translate(641.8 652.3) rotate(-45)">TRGVA*00_TRGJP1*00</text>
<text transform="translate(659 652.3) rotate(-45)">TRGVA*00_TRGJP2*00</text>
<text transform="translate(676.2 652.3) rotate(-45)">TRGVB*00_TRGJP*00</text>
</g>
<g stroke="#333" stroke-width="0.5">
<line x1="243.6" y1="646.2" x2="243.6" y2="648"/>
<line x1="260.8" y1="646.2" x2="260.8" y2="648"/>
<line x1="278" y1="646.2" x2="278" y2="648"/>
<line x1="295.2" y1="646.2" x2="295.2" y2="648"/>
<line x1="312.4" y1="646.2" x2="312.4" y2="648"/>
<line x1="329.6" y1="646.2" x2="329.6" y2="648"/>
<line x1="346.8" y1="646.2" x2="346.8" y2="648"/>
<line x1="364" y1="646.2" x2="364" y2="648"/>
<line x1="381.2" y1="646.2" x2="381.2" y2="648"/>
<line x1="398.4" y1="646.2" x2="398.4" y2="648"/>
<line x1="415.6" y1="646.2" x2="415.6" y2="648"/>
<line x1="432.8" y1="646.2" x2="432.8" y2="648"/>
<line x1="450" y1="646.2" x2="450" y2="648"/>
<line x1="467.2" y1="646.2" x2="467.2" y2="648"/>
<line x1="484.4" y1="646.2" x2="484.4" y2="648"/>
<line x1="501.6" y1="646.2" x2="501.6" y2="648"/>
<line x1="518.8" y1="646.2" x2="518.8" y2="648"/>
<line x1="536" y1="646.2" x2="536" y2="648"/>
<line x1="553.2" y1="646.2" x2="553.2" y2="648"/>
<line x1="570.4" y1="646.2" x2="570.4" y2="648"/>
<line x1="587.6" y1="646.2" x2="587.6" y2="648"/>
<line x1="604.8" y1="646.2" x2="604.8" y2="648"/>
<line x1="622" y1="646.2" x2="622" y2="648"/>
<line x1="639.2" y1="646.2" x2="639.2" y2="648"/>
<line x1="656.4" y1="646.2" x2="656.4" y2="648"/>
<line x1="673.6" y1="646.2" x2="673.6" y2="648"/>
</g>
<text x="340.6" y="602.4" font-size="7.6"><tspan font-style="italic">R</tspan>(o/e)</text>
<text x="377.2" y="601.9" font-size="6.2">1</text>
<text x="398.7" y="601.9" font-size="6.2">2</text>
<text x="419.8" y="601.9" font-size="6.2">3</text>
<text x="440.9" y="601.9" font-size="6.2">4</text>
<circle cx="368.8" cy="599.7" r="1.4" fill="#000"/>
<circle cx="389.9" cy="599.7" r="1.85" fill="#000"/>
<circle cx="411" cy="599.7" r="2.3" fill="#000"/>
<circle cx="432.1" cy="599.7" r="2.8" fill="#000"/>
<text x="456.8" y="602.4" font-size="7.6">Status</text>
<circle cx="487.6" cy="599.7" r="3.2" fill="#0A6A0A"/>
<text x="496.5" y="601.8" font-size="6.1">Depletion</text>
<circle cx="531.6" cy="599.7" r="3.2" fill="#FF0A0A"/>
<text x="540.1" y="601.8" font-size="6.1">Enrichment</text>
</svg>
</body></html>
